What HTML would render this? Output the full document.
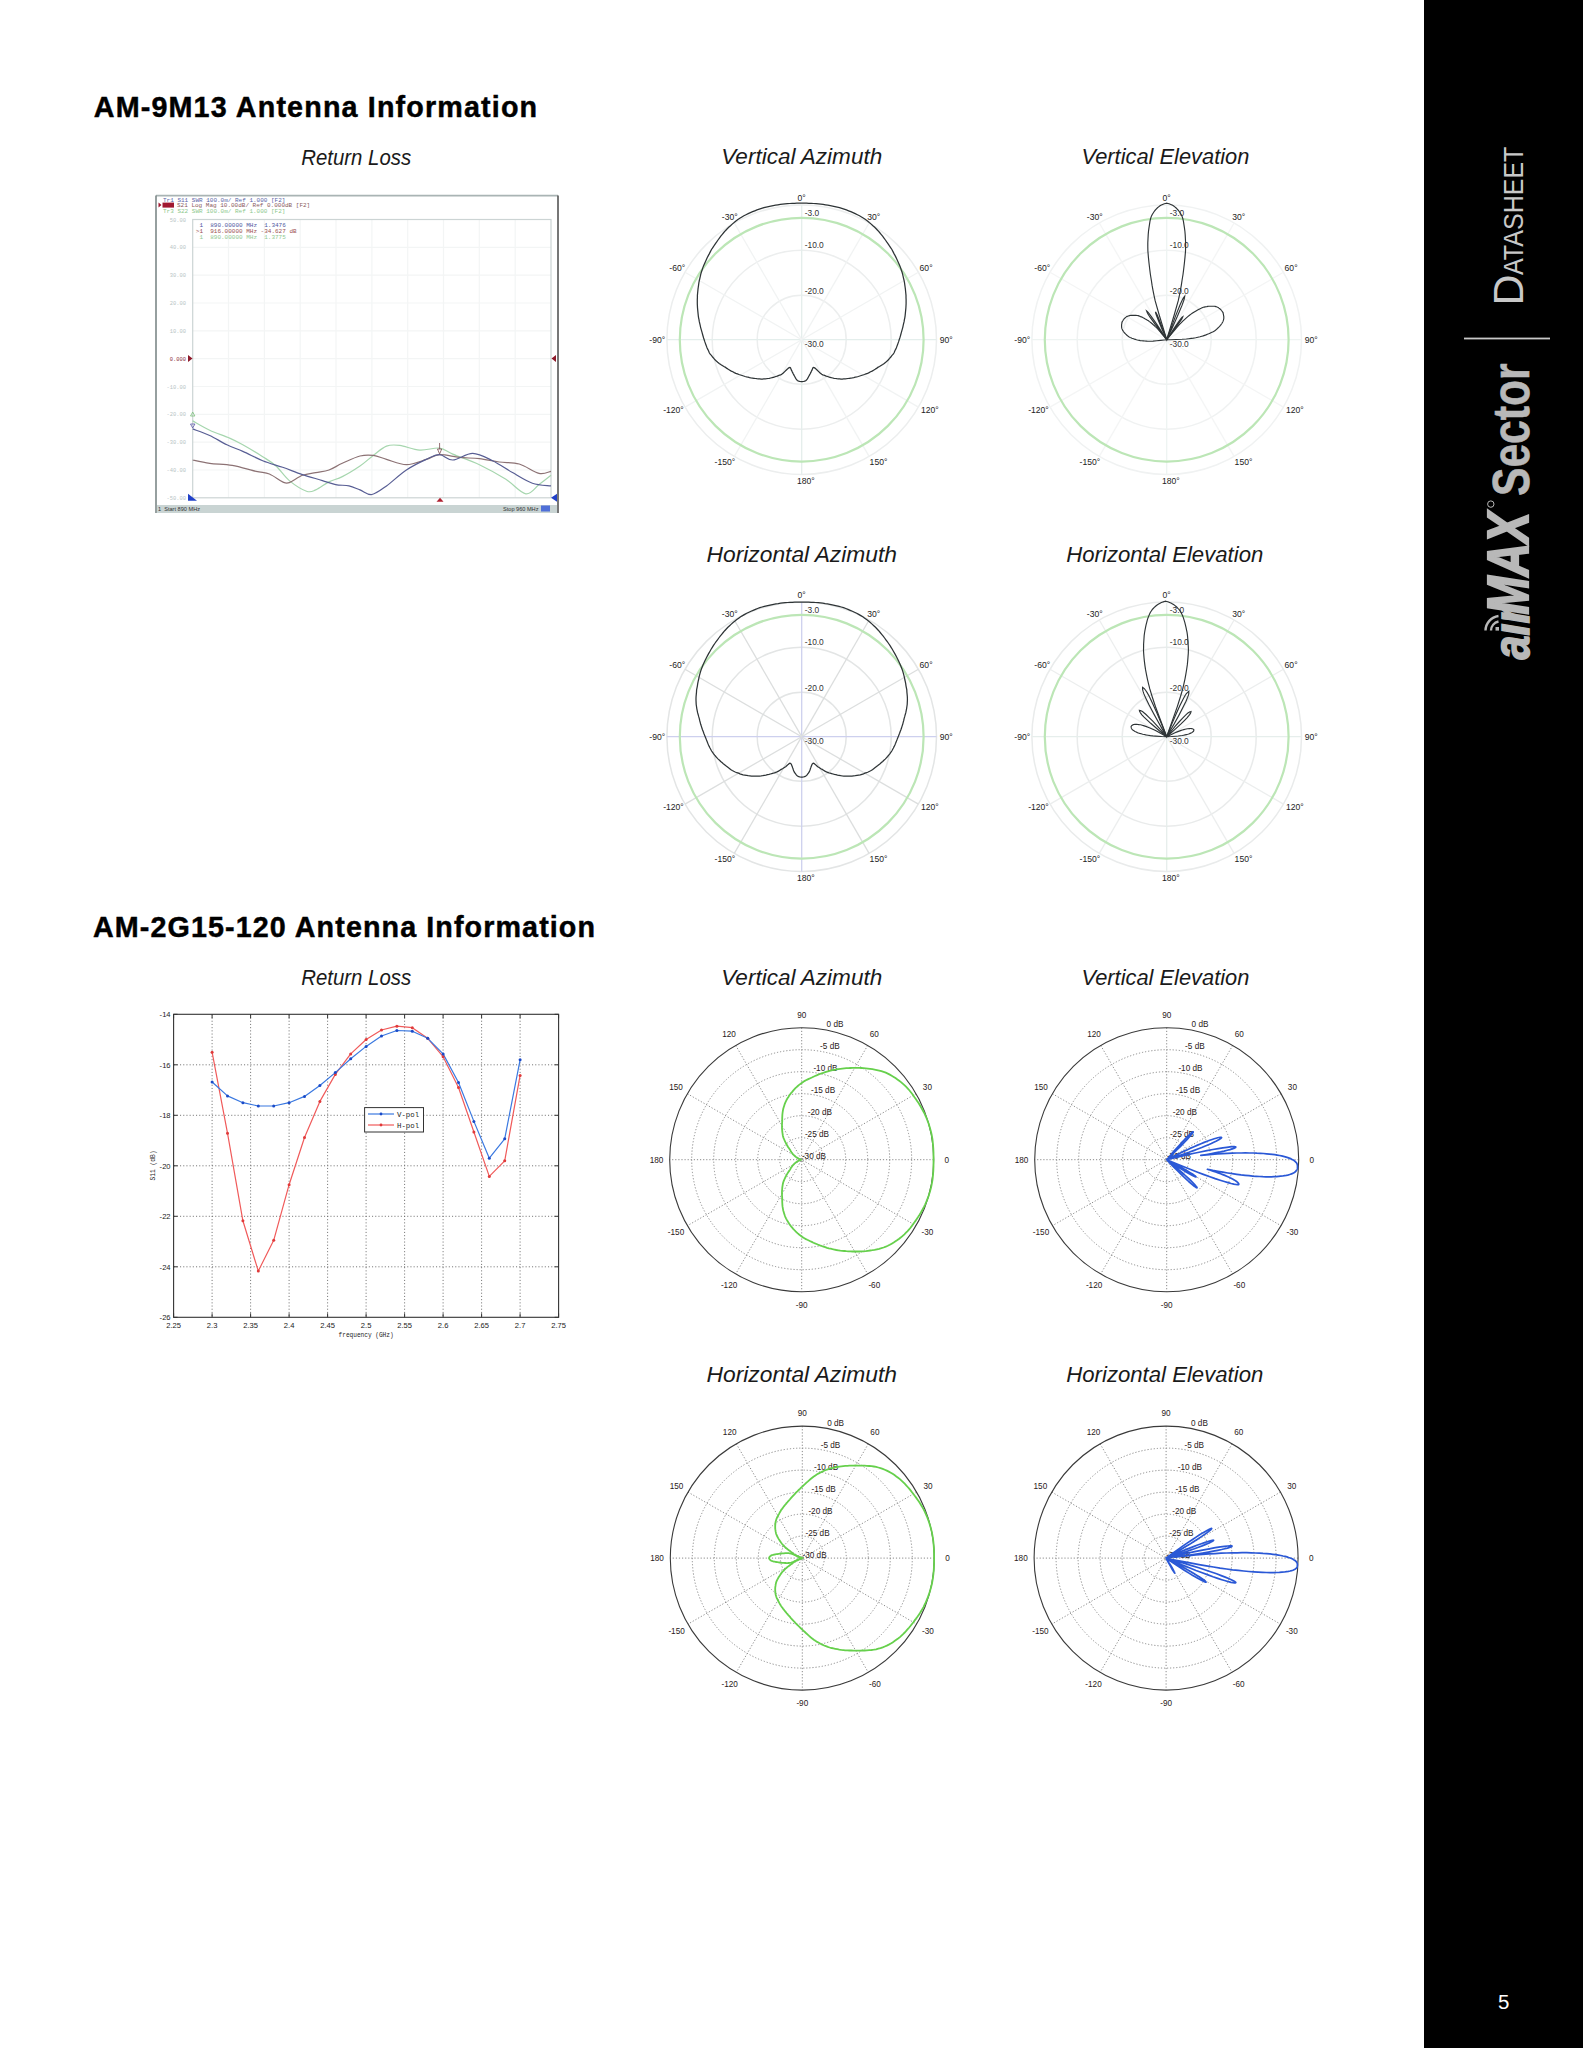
<!DOCTYPE html>
<html><head><meta charset="utf-8"><title>airMAX Sector Datasheet</title>
<style>
html,body{margin:0;padding:0;background:#fff;}
body{width:1583px;height:2048px;position:relative;overflow:hidden;font-family:"Liberation Sans",sans-serif;}
#side{position:absolute;left:1424px;top:0;width:159px;height:2048px;background:#000;}
svg{position:absolute;left:0;top:0;}
.h1{font-family:"Liberation Sans",sans-serif;font-weight:bold;font-size:28.7px;fill:#000;stroke:#000;stroke-width:0.45px;}
.t{font-family:"Liberation Sans",sans-serif;font-style:italic;font-size:22.8px;fill:#1a1a1a;}
.pa{font-family:"Liberation Sans",sans-serif;font-size:8.6px;fill:#222;}
.pdb{font-family:"Liberation Sans",sans-serif;font-size:8.4px;fill:#333;}
.pb{font-family:"Liberation Sans",sans-serif;font-size:8.2px;fill:#2a2020;}
.tk{font-family:"Liberation Sans",sans-serif;font-size:7.6px;fill:#222;}
.mono{font-family:"Liberation Mono",monospace;font-size:7.4px;fill:#222;}
.na{font-family:"Liberation Mono",monospace;font-size:6px;white-space:pre;}
</style></head><body>
<div id="side"></div>
<svg width="1583" height="2048" viewBox="0 0 1583 2048">
<text x="93.8" y="116.6" class="h1" textLength="443.3" lengthAdjust="spacing">AM-9M13 Antenna Information</text>
<text x="93.0" y="936.6" class="h1" textLength="502" lengthAdjust="spacing">AM-2G15-120 Antenna Information</text>
<text x="301.3" y="164.6" class="t" textLength="109.8" lengthAdjust="spacingAndGlyphs">Return Loss</text>
<text x="721.2" y="164.3" class="t" textLength="161" lengthAdjust="spacingAndGlyphs">Vertical Azimuth</text>
<text x="1081.4" y="164.3" class="t" textLength="168" lengthAdjust="spacingAndGlyphs">Vertical Elevation</text>
<text x="706.5" y="561.8" class="t" textLength="190.5" lengthAdjust="spacingAndGlyphs">Horizontal Azimuth</text>
<text x="1066.3" y="561.8" class="t" textLength="197" lengthAdjust="spacingAndGlyphs">Horizontal Elevation</text>
<text x="301.3" y="985.1" class="t" textLength="109.8" lengthAdjust="spacingAndGlyphs">Return Loss</text>
<text x="721.2" y="984.8" class="t" textLength="161" lengthAdjust="spacingAndGlyphs">Vertical Azimuth</text>
<text x="1081.4" y="984.8" class="t" textLength="168" lengthAdjust="spacingAndGlyphs">Vertical Elevation</text>
<text x="706.5" y="1382.3" class="t" textLength="190.5" lengthAdjust="spacingAndGlyphs">Horizontal Azimuth</text>
<text x="1066.3" y="1382.3" class="t" textLength="197" lengthAdjust="spacingAndGlyphs">Horizontal Elevation</text>
<rect x="156" y="195.6" width="402" height="317.4" fill="#fff"/>
<line x1="228.5" y1="219.5" x2="228.5" y2="497.8" stroke="#f3f5f5" stroke-width="1.2"/>
<line x1="192.7" y1="247.3" x2="551" y2="247.3" stroke="#f3f5f5" stroke-width="1.2"/>
<line x1="264.4" y1="219.5" x2="264.4" y2="497.8" stroke="#f3f5f5" stroke-width="1.2"/>
<line x1="192.7" y1="275.2" x2="551" y2="275.2" stroke="#f3f5f5" stroke-width="1.2"/>
<line x1="300.2" y1="219.5" x2="300.2" y2="497.8" stroke="#f3f5f5" stroke-width="1.2"/>
<line x1="192.7" y1="303.0" x2="551" y2="303.0" stroke="#f3f5f5" stroke-width="1.2"/>
<line x1="336.0" y1="219.5" x2="336.0" y2="497.8" stroke="#f3f5f5" stroke-width="1.2"/>
<line x1="192.7" y1="330.8" x2="551" y2="330.8" stroke="#f3f5f5" stroke-width="1.2"/>
<line x1="371.9" y1="219.5" x2="371.9" y2="497.8" stroke="#f3f5f5" stroke-width="1.2"/>
<line x1="192.7" y1="358.6" x2="551" y2="358.6" stroke="#f3f5f5" stroke-width="1.2"/>
<line x1="407.7" y1="219.5" x2="407.7" y2="497.8" stroke="#f3f5f5" stroke-width="1.2"/>
<line x1="192.7" y1="386.5" x2="551" y2="386.5" stroke="#f3f5f5" stroke-width="1.2"/>
<line x1="443.5" y1="219.5" x2="443.5" y2="497.8" stroke="#f3f5f5" stroke-width="1.2"/>
<line x1="192.7" y1="414.3" x2="551" y2="414.3" stroke="#f3f5f5" stroke-width="1.2"/>
<line x1="479.3" y1="219.5" x2="479.3" y2="497.8" stroke="#f3f5f5" stroke-width="1.2"/>
<line x1="192.7" y1="442.1" x2="551" y2="442.1" stroke="#f3f5f5" stroke-width="1.2"/>
<line x1="515.2" y1="219.5" x2="515.2" y2="497.8" stroke="#f3f5f5" stroke-width="1.2"/>
<line x1="192.7" y1="470.0" x2="551" y2="470.0" stroke="#f3f5f5" stroke-width="1.2"/>
<rect x="192.7" y="219.5" width="358.3" height="278.3" fill="none" stroke="#ccd4d4" stroke-width="1.2"/>
<line x1="156" y1="195.6" x2="558" y2="195.6" stroke="#a9b4b4" stroke-width="1.6"/>
<line x1="156" y1="195.6" x2="156" y2="513" stroke="#7c8888" stroke-width="1.6"/>
<line x1="558" y1="195.6" x2="558" y2="513" stroke="#555" stroke-width="1.6"/>
<rect x="157" y="505" width="400" height="8" fill="#c9d4d3"/>
<text x="158" y="511.3" class="na" style="font-family:'Liberation Sans';font-size:5.6px" fill="#333">1  Start 890 MHz</text>
<text x="503" y="511.3" class="na" style="font-family:'Liberation Sans';font-size:5.6px" fill="#333">Stop 960 MHz</text>
<rect x="541" y="505.5" width="9" height="6" fill="#4f6fd8"/>
<text x="163" y="201.5" class="na" fill="#5a64a8">Tr1 S11 SWR 100.0m/ Ref 1.000 [F2]</text>
<rect x="162.5" y="202.6" width="11.5" height="5" fill="#a01830"/>
<path d="M158.5,202.6 L161.5,205 L158.5,207.4Z" fill="#a01830"/>
<text x="177" y="207.3" class="na" fill="#8a5a60">S21 Log Mag 10.00dB/ Ref 0.000dB [F2]</text>
<text x="163" y="212.6" class="na" fill="#8cc88c">Tr3 S22 SWR 100.0m/ Ref 1.000 [F2]</text>
<text x="195.8" y="226.8" class="na" fill="#5058a0"> 1  890.00000 MHz  1.3476</text>
<text x="195.8" y="232.9" class="na" fill="#9a5050">&gt;1  916.00000 MHz -34.627 dB</text>
<text x="195.8" y="238.8" class="na" fill="#90c890"> 1  890.00000 MHz  1.3775</text>
<text x="186" y="221.5" class="na" fill="#b8c4c4" text-anchor="end" style="font-size:5.4px">50.00</text>
<text x="186" y="249.3" class="na" fill="#b8c4c4" text-anchor="end" style="font-size:5.4px">40.00</text>
<text x="186" y="277.2" class="na" fill="#b8c4c4" text-anchor="end" style="font-size:5.4px">30.00</text>
<text x="186" y="305.0" class="na" fill="#b8c4c4" text-anchor="end" style="font-size:5.4px">20.00</text>
<text x="186" y="332.8" class="na" fill="#b8c4c4" text-anchor="end" style="font-size:5.4px">10.00</text>
<text x="186" y="360.6" class="na" fill="#8a3040" text-anchor="end" style="font-size:5.4px">0.000</text>
<text x="186" y="388.5" class="na" fill="#b8c4c4" text-anchor="end" style="font-size:5.4px">-10.00</text>
<text x="186" y="416.3" class="na" fill="#b8c4c4" text-anchor="end" style="font-size:5.4px">-20.00</text>
<text x="186" y="444.1" class="na" fill="#b8c4c4" text-anchor="end" style="font-size:5.4px">-30.00</text>
<text x="186" y="472.0" class="na" fill="#b8c4c4" text-anchor="end" style="font-size:5.4px">-40.00</text>
<text x="186" y="499.8" class="na" fill="#b8c4c4" text-anchor="end" style="font-size:5.4px">-50.00</text>
<path d="M188,355.1 L192.5,358.6 L188,362.1Z" fill="#8e1a2a"/>
<path d="M556,355.1 L551.5,358.6 L556,362.1Z" fill="#8e1a2a"/>
<path d="M188,493.8 L197,500.8 L188,500.8Z" fill="#2040c8"/>
<path d="M557,493.8 L551,497.8 L557,501.8Z" fill="#2040c8"/>
<path d="M436.5,501.8 L440,497.8 L443.5,501.8Z" fill="#b02030"/>
<path d="M192.7,420.9 C195.5,422.4 203.5,427.3 209.7,430.2 C215.8,433.1 224.1,435.7 229.6,438.1 C235.1,440.5 237.3,441.7 242.8,444.8 C248.3,447.9 257.2,453.2 262.7,456.7 C268.2,460.2 271.6,462.0 276.0,466.0 C280.4,470.0 284.2,476.4 289.3,480.6 C294.4,484.8 302.1,489.6 306.5,491.2 C310.9,492.8 312.1,491.4 315.8,489.9 C319.6,488.3 324.6,484.1 329.0,481.9 C333.4,479.7 337.1,479.2 342.3,476.6 C347.5,474.0 354.8,469.5 360.0,466.0 C365.2,462.5 368.9,458.7 373.3,455.4 C377.7,452.1 382.1,447.8 386.5,446.1 C390.9,444.4 394.3,444.7 399.8,445.4 C405.3,446.1 413.1,449.7 419.7,450.1 C426.3,450.6 434.1,447.4 439.6,448.1 C445.1,448.8 446.2,451.3 452.8,454.1 C459.4,456.9 470.5,460.5 479.4,464.7 C488.2,468.9 498.2,474.4 505.9,479.3 C513.6,484.2 520.3,492.9 525.8,493.8 C531.3,494.7 534.8,487.7 539.0,484.6 C543.2,481.5 549.0,476.9 551.0,475.3" fill="none" stroke="#a6d6ae" stroke-width="1.2"/>
<path d="M192.7,460.0 C195.5,460.6 203.1,462.4 209.7,463.3 C216.3,464.2 224.5,464.0 232.2,465.3 C239.9,466.6 249.9,469.9 256.1,471.3 C262.3,472.8 265.0,472.2 269.4,474.0 C273.8,475.8 279.3,480.5 282.6,481.9 C285.9,483.3 286.0,483.7 289.3,482.6 C292.6,481.5 298.1,477.0 302.5,475.3 C306.9,473.6 311.4,473.5 315.8,472.6 C320.2,471.7 324.6,471.6 329.0,470.0 C333.4,468.4 337.1,465.6 342.3,463.3 C347.5,461.0 354.8,457.3 360.0,456.0 C365.2,454.7 368.9,454.8 373.3,455.4 C377.7,456.0 381.0,457.8 386.5,459.4 C392.0,460.9 399.8,464.7 406.4,464.7 C413.0,464.7 420.8,461.1 426.3,459.4 C431.8,457.7 434.1,455.0 439.6,454.7 C445.1,454.4 452.9,456.7 459.5,457.4 C466.1,458.1 472.8,457.9 479.4,458.7 C486.0,459.5 492.7,461.1 499.3,462.0 C505.9,462.9 512.6,462.1 519.2,464.0 C525.8,465.9 533.7,472.1 539.0,473.3 C544.3,474.5 549.0,471.6 551.0,471.3" fill="none" stroke="#8c7274" stroke-width="1.2"/>
<path d="M192.7,428.9 C195.5,430.0 204.0,432.9 209.7,435.5 C215.4,438.1 221.4,442.2 226.9,444.8 C232.4,447.4 236.8,448.8 242.8,451.4 C248.8,454.0 256.1,458.0 262.7,460.7 C269.3,463.4 276.0,465.0 282.6,467.3 C289.2,469.6 295.9,472.4 302.5,474.6 C309.1,476.8 316.9,478.9 322.4,480.6 C327.9,482.3 331.3,483.7 335.7,484.6 C340.1,485.5 344.9,485.0 349.0,485.9 C353.1,486.8 356.2,488.5 360.0,489.9 C363.8,491.3 367.5,495.2 371.9,494.5 C376.3,493.8 380.8,490.0 386.5,485.9 C392.2,481.8 399.8,474.4 406.4,470.0 C413.0,465.6 420.8,461.9 426.3,459.4 C431.8,456.8 435.2,454.6 439.6,454.7 C444.0,454.8 447.3,460.2 452.8,460.0 C458.3,459.8 466.1,453.3 472.7,453.4 C479.3,453.5 486.0,457.5 492.6,460.7 C499.2,463.9 505.9,468.9 512.5,472.6 C519.1,476.4 526.0,481.0 532.4,483.2 C538.8,485.4 547.9,485.4 551.0,485.9" fill="none" stroke="#585e94" stroke-width="1.2"/>
<path d="M190.5,416 L192.7,412 L194.9,416Z" fill="none" stroke="#7cc07c" stroke-width="0.8"/>
<path d="M190.5,424 L192.7,428 L194.9,424Z" fill="none" stroke="#5a58a8" stroke-width="0.8"/>
<path d="M437.5,449 L439.6,454 L441.7,449Z" fill="none" stroke="#7a4a4e" stroke-width="0.8"/>
<line x1="439.6" y1="443" x2="439.6" y2="449" stroke="#7a4a4e" stroke-width="0.8"/>
<line x1="212.1" y1="1014.3" x2="212.1" y2="1317.3" stroke="#6a6a6a" stroke-width="0.9" stroke-dasharray="1.1 2.1"/>
<line x1="250.6" y1="1014.3" x2="250.6" y2="1317.3" stroke="#6a6a6a" stroke-width="0.9" stroke-dasharray="1.1 2.1"/>
<line x1="289.1" y1="1014.3" x2="289.1" y2="1317.3" stroke="#6a6a6a" stroke-width="0.9" stroke-dasharray="1.1 2.1"/>
<line x1="327.6" y1="1014.3" x2="327.6" y2="1317.3" stroke="#6a6a6a" stroke-width="0.9" stroke-dasharray="1.1 2.1"/>
<line x1="366.1" y1="1014.3" x2="366.1" y2="1317.3" stroke="#6a6a6a" stroke-width="0.9" stroke-dasharray="1.1 2.1"/>
<line x1="404.6" y1="1014.3" x2="404.6" y2="1317.3" stroke="#6a6a6a" stroke-width="0.9" stroke-dasharray="1.1 2.1"/>
<line x1="443.1" y1="1014.3" x2="443.1" y2="1317.3" stroke="#6a6a6a" stroke-width="0.9" stroke-dasharray="1.1 2.1"/>
<line x1="481.6" y1="1014.3" x2="481.6" y2="1317.3" stroke="#6a6a6a" stroke-width="0.9" stroke-dasharray="1.1 2.1"/>
<line x1="520.1" y1="1014.3" x2="520.1" y2="1317.3" stroke="#6a6a6a" stroke-width="0.9" stroke-dasharray="1.1 2.1"/>
<line x1="173.6" y1="1064.8" x2="558.6" y2="1064.8" stroke="#6a6a6a" stroke-width="0.9" stroke-dasharray="1.1 2.1"/>
<line x1="173.6" y1="1115.3" x2="558.6" y2="1115.3" stroke="#6a6a6a" stroke-width="0.9" stroke-dasharray="1.1 2.1"/>
<line x1="173.6" y1="1165.8" x2="558.6" y2="1165.8" stroke="#6a6a6a" stroke-width="0.9" stroke-dasharray="1.1 2.1"/>
<line x1="173.6" y1="1216.3" x2="558.6" y2="1216.3" stroke="#6a6a6a" stroke-width="0.9" stroke-dasharray="1.1 2.1"/>
<line x1="173.6" y1="1266.8" x2="558.6" y2="1266.8" stroke="#6a6a6a" stroke-width="0.9" stroke-dasharray="1.1 2.1"/>
<line x1="173.6" y1="1317.3" x2="173.6" y2="1313.3" stroke="#333" stroke-width="1"/>
<line x1="173.6" y1="1014.3" x2="173.6" y2="1018.3" stroke="#333" stroke-width="1"/>
<text x="173.6" y="1327.5" class="tk" text-anchor="middle">2.25</text>
<line x1="212.1" y1="1317.3" x2="212.1" y2="1313.3" stroke="#333" stroke-width="1"/>
<line x1="212.1" y1="1014.3" x2="212.1" y2="1018.3" stroke="#333" stroke-width="1"/>
<text x="212.1" y="1327.5" class="tk" text-anchor="middle">2.3</text>
<line x1="250.6" y1="1317.3" x2="250.6" y2="1313.3" stroke="#333" stroke-width="1"/>
<line x1="250.6" y1="1014.3" x2="250.6" y2="1018.3" stroke="#333" stroke-width="1"/>
<text x="250.6" y="1327.5" class="tk" text-anchor="middle">2.35</text>
<line x1="289.1" y1="1317.3" x2="289.1" y2="1313.3" stroke="#333" stroke-width="1"/>
<line x1="289.1" y1="1014.3" x2="289.1" y2="1018.3" stroke="#333" stroke-width="1"/>
<text x="289.1" y="1327.5" class="tk" text-anchor="middle">2.4</text>
<line x1="327.6" y1="1317.3" x2="327.6" y2="1313.3" stroke="#333" stroke-width="1"/>
<line x1="327.6" y1="1014.3" x2="327.6" y2="1018.3" stroke="#333" stroke-width="1"/>
<text x="327.6" y="1327.5" class="tk" text-anchor="middle">2.45</text>
<line x1="366.1" y1="1317.3" x2="366.1" y2="1313.3" stroke="#333" stroke-width="1"/>
<line x1="366.1" y1="1014.3" x2="366.1" y2="1018.3" stroke="#333" stroke-width="1"/>
<text x="366.1" y="1327.5" class="tk" text-anchor="middle">2.5</text>
<line x1="404.6" y1="1317.3" x2="404.6" y2="1313.3" stroke="#333" stroke-width="1"/>
<line x1="404.6" y1="1014.3" x2="404.6" y2="1018.3" stroke="#333" stroke-width="1"/>
<text x="404.6" y="1327.5" class="tk" text-anchor="middle">2.55</text>
<line x1="443.1" y1="1317.3" x2="443.1" y2="1313.3" stroke="#333" stroke-width="1"/>
<line x1="443.1" y1="1014.3" x2="443.1" y2="1018.3" stroke="#333" stroke-width="1"/>
<text x="443.1" y="1327.5" class="tk" text-anchor="middle">2.6</text>
<line x1="481.6" y1="1317.3" x2="481.6" y2="1313.3" stroke="#333" stroke-width="1"/>
<line x1="481.6" y1="1014.3" x2="481.6" y2="1018.3" stroke="#333" stroke-width="1"/>
<text x="481.6" y="1327.5" class="tk" text-anchor="middle">2.65</text>
<line x1="520.1" y1="1317.3" x2="520.1" y2="1313.3" stroke="#333" stroke-width="1"/>
<line x1="520.1" y1="1014.3" x2="520.1" y2="1018.3" stroke="#333" stroke-width="1"/>
<text x="520.1" y="1327.5" class="tk" text-anchor="middle">2.7</text>
<line x1="558.6" y1="1317.3" x2="558.6" y2="1313.3" stroke="#333" stroke-width="1"/>
<line x1="558.6" y1="1014.3" x2="558.6" y2="1018.3" stroke="#333" stroke-width="1"/>
<text x="558.6" y="1327.5" class="tk" text-anchor="middle">2.75</text>
<line x1="173.6" y1="1014.3" x2="177.6" y2="1014.3" stroke="#333" stroke-width="1"/>
<line x1="558.6" y1="1014.3" x2="554.6" y2="1014.3" stroke="#333" stroke-width="1"/>
<text x="170.6" y="1017.1" class="tk" text-anchor="end">-14</text>
<line x1="173.6" y1="1064.8" x2="177.6" y2="1064.8" stroke="#333" stroke-width="1"/>
<line x1="558.6" y1="1064.8" x2="554.6" y2="1064.8" stroke="#333" stroke-width="1"/>
<text x="170.6" y="1067.6" class="tk" text-anchor="end">-16</text>
<line x1="173.6" y1="1115.3" x2="177.6" y2="1115.3" stroke="#333" stroke-width="1"/>
<line x1="558.6" y1="1115.3" x2="554.6" y2="1115.3" stroke="#333" stroke-width="1"/>
<text x="170.6" y="1118.1" class="tk" text-anchor="end">-18</text>
<line x1="173.6" y1="1165.8" x2="177.6" y2="1165.8" stroke="#333" stroke-width="1"/>
<line x1="558.6" y1="1165.8" x2="554.6" y2="1165.8" stroke="#333" stroke-width="1"/>
<text x="170.6" y="1168.6" class="tk" text-anchor="end">-20</text>
<line x1="173.6" y1="1216.3" x2="177.6" y2="1216.3" stroke="#333" stroke-width="1"/>
<line x1="558.6" y1="1216.3" x2="554.6" y2="1216.3" stroke="#333" stroke-width="1"/>
<text x="170.6" y="1219.1" class="tk" text-anchor="end">-22</text>
<line x1="173.6" y1="1266.8" x2="177.6" y2="1266.8" stroke="#333" stroke-width="1"/>
<line x1="558.6" y1="1266.8" x2="554.6" y2="1266.8" stroke="#333" stroke-width="1"/>
<text x="170.6" y="1269.6" class="tk" text-anchor="end">-24</text>
<line x1="173.6" y1="1317.3" x2="177.6" y2="1317.3" stroke="#333" stroke-width="1"/>
<line x1="558.6" y1="1317.3" x2="554.6" y2="1317.3" stroke="#333" stroke-width="1"/>
<text x="170.6" y="1320.1" class="tk" text-anchor="end">-26</text>
<rect x="173.6" y="1014.3" width="385.0" height="303.0" fill="none" stroke="#333" stroke-width="1.1"/>
<text x="366.1" y="1337" class="mono" text-anchor="middle" textLength="55" lengthAdjust="spacingAndGlyphs">frequency (GHz)</text>
<text x="0" y="0" class="mono" text-anchor="middle" textLength="30" lengthAdjust="spacingAndGlyphs" transform="translate(154.5,1165.5) rotate(-90)">S11 (dB)</text>
<polyline points="212.1,1052.2 227.5,1133.2 242.9,1220.8 258.3,1271.1 273.7,1240.3 289.1,1184.7 304.5,1137.5 319.9,1101.4 335.3,1074.4 350.7,1053.9 366.1,1039.5 381.5,1030.0 396.9,1026.2 412.3,1027.7 427.7,1038.3 443.1,1056.7 458.5,1087.5 473.9,1132.0 489.3,1176.4 504.7,1160.8 520.1,1075.4" fill="none" stroke="#f05a5a" stroke-width="1.2" stroke-linejoin="round"/>
<polyline points="212.1,1082.0 227.5,1095.9 242.9,1102.7 258.3,1106.0 273.7,1106.0 289.1,1102.7 304.5,1096.4 319.9,1085.5 335.3,1072.6 350.7,1058.7 366.1,1046.4 381.5,1036.0 396.9,1030.5 412.3,1031.2 427.7,1038.3 443.1,1053.9 458.5,1082.5 473.9,1121.4 489.3,1158.2 504.7,1138.8 520.1,1059.8" fill="none" stroke="#3a78e0" stroke-width="1.2" stroke-linejoin="round"/>
<circle cx="212.1" cy="1052.2" r="1.5" fill="#e03a3a"/>
<circle cx="227.5" cy="1133.2" r="1.5" fill="#e03a3a"/>
<circle cx="242.9" cy="1220.8" r="1.5" fill="#e03a3a"/>
<circle cx="258.3" cy="1271.1" r="1.5" fill="#e03a3a"/>
<circle cx="273.7" cy="1240.3" r="1.5" fill="#e03a3a"/>
<circle cx="289.1" cy="1184.7" r="1.5" fill="#e03a3a"/>
<circle cx="304.5" cy="1137.5" r="1.5" fill="#e03a3a"/>
<circle cx="319.9" cy="1101.4" r="1.5" fill="#e03a3a"/>
<circle cx="335.3" cy="1074.4" r="1.5" fill="#e03a3a"/>
<circle cx="350.7" cy="1053.9" r="1.5" fill="#e03a3a"/>
<circle cx="366.1" cy="1039.5" r="1.5" fill="#e03a3a"/>
<circle cx="381.5" cy="1030.0" r="1.5" fill="#e03a3a"/>
<circle cx="396.9" cy="1026.2" r="1.5" fill="#e03a3a"/>
<circle cx="412.3" cy="1027.7" r="1.5" fill="#e03a3a"/>
<circle cx="427.7" cy="1038.3" r="1.5" fill="#e03a3a"/>
<circle cx="443.1" cy="1056.7" r="1.5" fill="#e03a3a"/>
<circle cx="458.5" cy="1087.5" r="1.5" fill="#e03a3a"/>
<circle cx="473.9" cy="1132.0" r="1.5" fill="#e03a3a"/>
<circle cx="489.3" cy="1176.4" r="1.5" fill="#e03a3a"/>
<circle cx="504.7" cy="1160.8" r="1.5" fill="#e03a3a"/>
<circle cx="520.1" cy="1075.4" r="1.5" fill="#e03a3a"/>
<circle cx="212.1" cy="1082.0" r="1.5" fill="#1a4ac8"/>
<circle cx="227.5" cy="1095.9" r="1.5" fill="#1a4ac8"/>
<circle cx="242.9" cy="1102.7" r="1.5" fill="#1a4ac8"/>
<circle cx="258.3" cy="1106.0" r="1.5" fill="#1a4ac8"/>
<circle cx="273.7" cy="1106.0" r="1.5" fill="#1a4ac8"/>
<circle cx="289.1" cy="1102.7" r="1.5" fill="#1a4ac8"/>
<circle cx="304.5" cy="1096.4" r="1.5" fill="#1a4ac8"/>
<circle cx="319.9" cy="1085.5" r="1.5" fill="#1a4ac8"/>
<circle cx="335.3" cy="1072.6" r="1.5" fill="#1a4ac8"/>
<circle cx="350.7" cy="1058.7" r="1.5" fill="#1a4ac8"/>
<circle cx="366.1" cy="1046.4" r="1.5" fill="#1a4ac8"/>
<circle cx="381.5" cy="1036.0" r="1.5" fill="#1a4ac8"/>
<circle cx="396.9" cy="1030.5" r="1.5" fill="#1a4ac8"/>
<circle cx="412.3" cy="1031.2" r="1.5" fill="#1a4ac8"/>
<circle cx="427.7" cy="1038.3" r="1.5" fill="#1a4ac8"/>
<circle cx="443.1" cy="1053.9" r="1.5" fill="#1a4ac8"/>
<circle cx="458.5" cy="1082.5" r="1.5" fill="#1a4ac8"/>
<circle cx="473.9" cy="1121.4" r="1.5" fill="#1a4ac8"/>
<circle cx="489.3" cy="1158.2" r="1.5" fill="#1a4ac8"/>
<circle cx="504.7" cy="1138.8" r="1.5" fill="#1a4ac8"/>
<circle cx="520.1" cy="1059.8" r="1.5" fill="#1a4ac8"/>
<rect x="364.6" y="1107.6" width="58.9" height="24.4" fill="#fff" stroke="#333" stroke-width="1"/>
<line x1="368" y1="1114" x2="394" y2="1114" stroke="#3a78e0" stroke-width="1.2"/>
<circle cx="381" cy="1114" r="1.4" fill="#1a4ac8"/>
<line x1="368" y1="1125" x2="394" y2="1125" stroke="#f05a5a" stroke-width="1.2"/>
<circle cx="381" cy="1125" r="1.4" fill="#e03a3a"/>
<text x="397" y="1116.8" class="mono">V-pol</text>
<text x="397" y="1127.8" class="mono">H-pol</text>
<circle cx="801.7" cy="339.7" r="44.5" fill="none" stroke="#eceeee" stroke-width="1.5"/>
<circle cx="801.7" cy="339.7" r="89.5" fill="none" stroke="#eceeee" stroke-width="1.5"/>
<circle cx="801.7" cy="339.7" r="134.8" fill="none" stroke="#eceeee" stroke-width="1.5"/>
<line x1="801.7" y1="339.7" x2="801.7" y2="204.9" stroke="#e4eeec" stroke-width="1.3"/>
<line x1="801.7" y1="339.7" x2="869.1" y2="223.0" stroke="#f1f3f3" stroke-width="1.3"/>
<line x1="801.7" y1="339.7" x2="918.4" y2="272.3" stroke="#f1f3f3" stroke-width="1.3"/>
<line x1="801.7" y1="339.7" x2="936.5" y2="339.7" stroke="#e4eeec" stroke-width="1.3"/>
<line x1="801.7" y1="339.7" x2="918.4" y2="407.1" stroke="#f1f3f3" stroke-width="1.3"/>
<line x1="801.7" y1="339.7" x2="869.1" y2="456.4" stroke="#f1f3f3" stroke-width="1.3"/>
<line x1="801.7" y1="339.7" x2="801.7" y2="474.5" stroke="#e4eeec" stroke-width="1.3"/>
<line x1="801.7" y1="339.7" x2="734.3" y2="456.4" stroke="#f1f3f3" stroke-width="1.3"/>
<line x1="801.7" y1="339.7" x2="685.0" y2="407.1" stroke="#f1f3f3" stroke-width="1.3"/>
<line x1="801.7" y1="339.7" x2="666.9" y2="339.7" stroke="#e4eeec" stroke-width="1.3"/>
<line x1="801.7" y1="339.7" x2="685.0" y2="272.3" stroke="#f1f3f3" stroke-width="1.3"/>
<line x1="801.7" y1="339.7" x2="734.3" y2="223.0" stroke="#f1f3f3" stroke-width="1.3"/>
<circle cx="801.7" cy="339.7" r="121.9" fill="none" stroke="#bce6b6" stroke-width="2.2"/>
<text x="801.7" y="200.9" class="pa" text-anchor="middle">0°</text>
<text x="873.7" y="220.2" class="pa" text-anchor="middle">30°</text>
<text x="926.1" y="271.1" class="pa" text-anchor="middle">60°</text>
<text x="946.2" y="342.9" class="pa" text-anchor="middle">90°</text>
<text x="929.9" y="413.4" class="pa" text-anchor="middle">120°</text>
<text x="878.5" y="464.9" class="pa" text-anchor="middle">150°</text>
<text x="805.9" y="484.0" class="pa" text-anchor="middle">180°</text>
<text x="724.9" y="464.9" class="pa" text-anchor="middle">-150°</text>
<text x="673.5" y="413.4" class="pa" text-anchor="middle">-120°</text>
<text x="657.2" y="342.9" class="pa" text-anchor="middle">-90°</text>
<text x="677.3" y="271.1" class="pa" text-anchor="middle">-60°</text>
<text x="729.7" y="220.2" class="pa" text-anchor="middle">-30°</text>
<text x="804.7" y="216.4" class="pdb">-3.0</text>
<text x="804.7" y="248.1" class="pdb">-10.0</text>
<text x="804.7" y="293.6" class="pdb">-20.0</text>
<text x="804.7" y="346.8" class="pdb">-30.0</text>
<path d="M801.7,381.7 L801.0,381.6 L800.2,381.5 L799.5,381.4 L798.8,381.2 L798.1,380.9 L797.4,380.5 L796.8,379.8 L796.2,379.1 L795.6,378.2 L795.1,377.2 L794.6,376.3 L794.1,375.4 L793.7,374.6 L793.2,373.7 L792.8,372.9 L792.4,372.1 L792.0,371.3 L791.7,370.6 L791.3,369.9 L791.0,369.1 L790.7,368.3 L790.4,367.7 L789.9,367.4 L789.3,367.6 L788.4,368.1 L787.4,369.1 L786.1,370.2 L784.7,371.6 L783.3,373.0 L781.7,374.3 L780.6,374.8 L779.5,375.2 L778.4,375.6 L777.2,376.1 L775.9,376.5 L774.7,376.9 L773.4,377.3 L772.0,377.7 L770.7,378.0 L769.3,378.3 L768.0,378.5 L766.6,378.7 L765.2,378.8 L763.8,378.9 L762.4,379.0 L761.1,379.0 L759.7,378.9 L758.2,378.8 L756.8,378.7 L755.4,378.5 L754.0,378.3 L752.5,378.1 L751.1,377.9 L749.6,377.6 L748.1,377.2 L746.6,376.9 L745.1,376.5 L743.6,376.0 L742.1,375.5 L740.5,375.0 L739.0,374.5 L737.4,373.9 L735.8,373.3 L734.3,372.6 L732.8,371.8 L731.3,371.1 L729.8,370.2 L728.3,369.3 L726.9,368.4 L725.6,367.4 L723.9,366.5 L722.3,365.5 L720.7,364.5 L719.2,363.4 L717.7,362.2 L716.3,361.0 L715.0,359.7 L713.8,358.4 L712.6,357.0 L711.6,355.6 L710.2,354.2 L709.3,352.7 L708.6,351.1 L707.9,349.6 L707.1,348.0 L706.5,346.4 L705.9,344.7 L705.3,343.1 L704.7,341.4 L704.2,339.7 L703.6,338.0 L703.1,336.3 L702.6,334.5 L702.1,332.7 L701.6,330.9 L701.1,329.1 L700.6,327.3 L700.2,325.4 L699.8,323.6 L699.3,321.7 L699.0,319.7 L698.6,317.8 L698.3,315.8 L698.1,313.9 L697.9,311.9 L697.7,309.9 L697.5,307.8 L697.4,305.8 L697.3,303.8 L697.3,301.7 L697.3,299.6 L697.4,297.5 L697.4,295.4 L697.6,293.3 L697.8,291.2 L698.0,289.1 L698.3,287.0 L698.6,284.9 L698.9,282.7 L699.3,280.6 L699.8,278.5 L700.3,276.3 L700.8,274.2 L701.4,272.0 L702.1,270.0 L702.8,267.9 L703.6,265.8 L704.5,263.8 L705.4,261.7 L706.3,259.7 L707.3,257.6 L708.3,255.6 L709.4,253.6 L710.4,251.6 L711.5,249.5 L712.8,247.6 L714.1,245.7 L715.3,243.8 L716.7,241.9 L718.0,240.0 L719.4,238.1 L720.8,236.2 L722.3,234.3 L723.8,232.5 L725.4,230.7 L727.0,229.0 L728.7,227.3 L730.5,225.7 L732.2,224.1 L734.1,222.6 L735.9,221.1 L737.9,219.6 L739.8,218.3 L741.9,217.0 L743.9,215.8 L746.0,214.7 L748.2,213.6 L750.4,212.6 L752.6,211.7 L754.8,210.8 L757.0,209.9 L759.3,209.1 L761.6,208.4 L763.9,207.7 L766.2,207.1 L768.5,206.6 L770.8,206.1 L773.2,205.6 L775.6,205.2 L777.9,204.8 L780.3,204.4 L782.6,204.1 L785.0,203.9 L787.4,203.7 L789.8,203.5 L792.2,203.4 L794.5,203.3 L796.9,203.2 L799.3,203.2 L801.7,203.2 L804.1,203.2 L806.5,203.2 L808.9,203.3 L811.2,203.4 L813.6,203.5 L816.0,203.7 L818.4,203.9 L820.8,204.1 L823.1,204.4 L825.5,204.8 L827.8,205.2 L830.2,205.6 L832.6,206.1 L834.9,206.6 L837.2,207.1 L839.5,207.7 L841.8,208.4 L844.1,209.1 L846.4,209.9 L848.6,210.8 L850.8,211.7 L853.0,212.6 L855.2,213.6 L857.4,214.7 L859.5,215.8 L861.5,217.0 L863.6,218.3 L865.5,219.6 L867.5,221.1 L869.3,222.6 L871.2,224.1 L872.9,225.7 L874.7,227.3 L876.4,229.0 L878.0,230.7 L879.6,232.5 L881.1,234.3 L882.6,236.2 L884.0,238.1 L885.4,240.0 L886.7,241.9 L888.1,243.8 L889.3,245.7 L890.6,247.6 L891.9,249.5 L893.0,251.6 L894.0,253.6 L895.1,255.6 L896.1,257.6 L897.1,259.7 L898.0,261.7 L898.9,263.8 L899.8,265.8 L900.6,267.9 L901.3,270.0 L902.0,272.0 L902.6,274.2 L903.1,276.3 L903.6,278.5 L904.1,280.6 L904.5,282.7 L904.8,284.9 L905.1,287.0 L905.4,289.1 L905.6,291.2 L905.8,293.3 L906.0,295.4 L906.0,297.5 L906.1,299.6 L906.1,301.7 L906.1,303.8 L906.0,305.8 L905.9,307.8 L905.7,309.9 L905.5,311.9 L905.3,313.9 L905.1,315.8 L904.8,317.8 L904.4,319.7 L904.1,321.7 L903.6,323.6 L903.2,325.4 L902.8,327.3 L902.3,329.1 L901.8,330.9 L901.3,332.7 L900.8,334.5 L900.3,336.3 L899.8,338.0 L899.2,339.7 L898.7,341.4 L898.1,343.1 L897.5,344.7 L896.9,346.4 L896.3,348.0 L895.5,349.6 L894.8,351.1 L894.1,352.7 L893.2,354.2 L891.8,355.6 L890.8,357.0 L889.6,358.4 L888.4,359.7 L887.1,361.0 L885.7,362.2 L884.2,363.4 L882.7,364.5 L881.1,365.5 L879.5,366.5 L877.8,367.4 L876.5,368.4 L875.1,369.3 L873.6,370.2 L872.1,371.1 L870.6,371.8 L869.1,372.6 L867.6,373.3 L866.0,373.9 L864.4,374.5 L862.9,375.0 L861.3,375.5 L859.8,376.0 L858.3,376.5 L856.8,376.9 L855.3,377.2 L853.8,377.6 L852.3,377.9 L850.9,378.1 L849.4,378.3 L848.0,378.5 L846.6,378.7 L845.2,378.8 L843.7,378.9 L842.3,379.0 L841.0,379.0 L839.6,378.9 L838.2,378.8 L836.8,378.7 L835.4,378.5 L834.1,378.3 L832.7,378.0 L831.4,377.7 L830.0,377.3 L828.7,376.9 L827.5,376.5 L826.2,376.1 L825.0,375.6 L823.9,375.2 L822.8,374.8 L821.7,374.3 L820.1,373.0 L818.7,371.6 L817.3,370.2 L816.0,369.1 L815.0,368.1 L814.1,367.6 L813.5,367.4 L813.0,367.7 L812.7,368.3 L812.4,369.1 L812.1,369.9 L811.7,370.6 L811.4,371.3 L811.0,372.1 L810.6,372.9 L810.2,373.7 L809.7,374.6 L809.3,375.4 L808.8,376.3 L808.3,377.2 L807.8,378.2 L807.2,379.1 L806.6,379.8 L806.0,380.5 L805.3,380.9 L804.6,381.2 L803.9,381.4 L803.2,381.5 L802.4,381.6 L801.7,381.7 Z" fill="none" stroke="#2e3436" stroke-width="1.25"/>
<circle cx="801.7" cy="736.7" r="44.5" fill="none" stroke="#e3e5e5" stroke-width="1.5"/>
<circle cx="801.7" cy="736.7" r="89.5" fill="none" stroke="#e3e5e5" stroke-width="1.5"/>
<circle cx="801.7" cy="736.7" r="134.8" fill="none" stroke="#e3e5e5" stroke-width="1.5"/>
<line x1="801.7" y1="736.7" x2="801.7" y2="601.9" stroke="#cdd0ee" stroke-width="1.3"/>
<line x1="801.7" y1="736.7" x2="869.1" y2="620.0" stroke="#dcdede" stroke-width="1.3"/>
<line x1="801.7" y1="736.7" x2="918.4" y2="669.3" stroke="#dcdede" stroke-width="1.3"/>
<line x1="801.7" y1="736.7" x2="936.5" y2="736.7" stroke="#cdd0ee" stroke-width="1.3"/>
<line x1="801.7" y1="736.7" x2="918.4" y2="804.1" stroke="#dcdede" stroke-width="1.3"/>
<line x1="801.7" y1="736.7" x2="869.1" y2="853.4" stroke="#dcdede" stroke-width="1.3"/>
<line x1="801.7" y1="736.7" x2="801.7" y2="871.5" stroke="#cdd0ee" stroke-width="1.3"/>
<line x1="801.7" y1="736.7" x2="734.3" y2="853.4" stroke="#dcdede" stroke-width="1.3"/>
<line x1="801.7" y1="736.7" x2="685.0" y2="804.1" stroke="#dcdede" stroke-width="1.3"/>
<line x1="801.7" y1="736.7" x2="666.9" y2="736.7" stroke="#cdd0ee" stroke-width="1.3"/>
<line x1="801.7" y1="736.7" x2="685.0" y2="669.3" stroke="#dcdede" stroke-width="1.3"/>
<line x1="801.7" y1="736.7" x2="734.3" y2="620.0" stroke="#dcdede" stroke-width="1.3"/>
<circle cx="801.7" cy="736.7" r="121.9" fill="none" stroke="#bce6b6" stroke-width="2.2"/>
<text x="801.7" y="597.9" class="pa" text-anchor="middle">0°</text>
<text x="873.7" y="617.2" class="pa" text-anchor="middle">30°</text>
<text x="926.1" y="668.1" class="pa" text-anchor="middle">60°</text>
<text x="946.2" y="739.9" class="pa" text-anchor="middle">90°</text>
<text x="929.9" y="810.4" class="pa" text-anchor="middle">120°</text>
<text x="878.5" y="861.9" class="pa" text-anchor="middle">150°</text>
<text x="805.9" y="881.0" class="pa" text-anchor="middle">180°</text>
<text x="724.9" y="861.9" class="pa" text-anchor="middle">-150°</text>
<text x="673.5" y="810.4" class="pa" text-anchor="middle">-120°</text>
<text x="657.2" y="739.9" class="pa" text-anchor="middle">-90°</text>
<text x="677.3" y="668.1" class="pa" text-anchor="middle">-60°</text>
<text x="729.7" y="617.2" class="pa" text-anchor="middle">-30°</text>
<text x="804.7" y="613.4" class="pdb">-3.0</text>
<text x="804.7" y="645.1" class="pdb">-10.0</text>
<text x="804.7" y="690.6" class="pdb">-20.0</text>
<text x="804.7" y="743.8" class="pdb">-30.0</text>
<path d="M801.7,777.2 L801.0,777.1 L800.3,777.0 L799.6,776.9 L798.9,776.7 L798.2,776.4 L797.6,776.0 L796.9,775.5 L796.3,774.9 L795.8,774.2 L795.2,773.5 L794.7,772.7 L794.2,771.9 L793.8,771.0 L793.4,770.0 L793.1,769.0 L792.7,767.9 L792.4,767.0 L792.1,766.2 L791.8,765.5 L791.5,764.8 L791.2,764.1 L790.8,763.6 L790.4,763.3 L789.9,763.2 L789.2,763.6 L788.2,764.4 L787.0,765.5 L785.7,766.7 L784.7,767.3 L783.6,768.0 L782.5,768.7 L781.2,769.4 L779.9,770.2 L778.5,771.1 L777.0,771.9 L775.8,772.3 L774.5,772.8 L773.2,773.2 L771.8,773.6 L770.4,774.0 L769.0,774.4 L767.5,774.7 L765.9,775.1 L764.3,775.4 L762.7,775.7 L761.1,775.9 L759.6,776.0 L758.0,776.0 L756.4,776.0 L754.8,776.0 L753.1,776.0 L751.5,776.0 L749.8,775.8 L748.1,775.7 L746.4,775.4 L744.7,775.1 L743.1,774.8 L741.5,774.3 L739.9,773.8 L738.5,773.2 L736.8,772.7 L735.2,772.0 L733.7,771.3 L732.3,770.5 L731.0,769.7 L729.7,768.7 L728.5,767.8 L727.2,766.8 L725.9,765.8 L724.6,764.7 L723.3,763.7 L722.0,762.6 L720.7,761.5 L719.5,760.3 L718.2,759.1 L717.0,757.8 L715.8,756.5 L714.7,755.2 L713.6,753.8 L712.6,752.4 L711.6,751.0 L710.8,749.5 L710.0,748.0 L709.2,746.4 L708.5,744.9 L707.8,743.3 L707.2,741.7 L706.5,740.0 L705.9,738.4 L705.2,736.7 L704.5,735.0 L703.8,733.3 L703.2,731.5 L702.5,729.8 L701.9,728.0 L701.3,726.1 L700.7,724.3 L700.2,722.4 L699.7,720.5 L699.3,718.6 L698.7,716.7 L698.2,714.7 L697.6,712.7 L697.2,710.6 L696.8,708.6 L696.5,706.5 L696.2,704.5 L696.1,702.4 L696.0,700.3 L696.0,698.2 L696.1,696.2 L696.3,694.1 L696.5,692.1 L696.6,689.9 L697.0,687.9 L697.4,685.8 L697.7,683.7 L698.1,681.6 L698.6,679.5 L699.0,677.4 L699.5,675.3 L700.1,673.2 L700.7,671.1 L701.4,669.0 L702.2,667.0 L703.0,665.0 L703.9,663.0 L704.8,661.0 L705.8,659.0 L706.8,657.0 L707.8,655.1 L708.9,653.1 L710.0,651.2 L711.1,649.2 L712.3,647.3 L713.5,645.4 L714.8,643.5 L716.1,641.7 L717.5,639.8 L718.8,638.0 L720.2,636.1 L721.7,634.3 L723.2,632.5 L724.7,630.7 L726.3,629.0 L727.9,627.3 L729.6,625.7 L731.3,624.1 L733.1,622.5 L735.0,621.1 L736.8,619.6 L738.7,618.2 L740.6,616.8 L742.6,615.6 L744.7,614.4 L746.7,613.3 L748.9,612.2 L751.0,611.2 L753.2,610.3 L755.4,609.4 L757.6,608.5 L759.8,607.7 L762.1,607.0 L764.3,606.4 L766.6,605.8 L768.9,605.3 L771.2,604.8 L773.6,604.3 L775.9,603.9 L778.2,603.6 L780.6,603.2 L782.9,602.9 L785.2,602.7 L787.6,602.5 L789.9,602.4 L792.3,602.3 L794.7,602.2 L797.0,602.2 L799.4,602.2 L801.7,602.2 L804.0,602.2 L806.4,602.2 L808.7,602.2 L811.1,602.3 L813.5,602.4 L815.8,602.5 L818.2,602.7 L820.5,602.9 L822.8,603.2 L825.2,603.6 L827.5,603.9 L829.8,604.3 L832.2,604.8 L834.5,605.3 L836.8,605.8 L839.1,606.4 L841.3,607.0 L843.6,607.7 L845.8,608.5 L848.0,609.4 L850.2,610.3 L852.4,611.2 L854.5,612.2 L856.7,613.3 L858.7,614.4 L860.8,615.6 L862.8,616.8 L864.7,618.2 L866.6,619.6 L868.5,621.1 L870.3,622.5 L872.1,624.1 L873.8,625.7 L875.5,627.3 L877.1,629.0 L878.7,630.7 L880.2,632.5 L881.7,634.3 L883.2,636.1 L884.6,638.0 L885.9,639.8 L887.3,641.7 L888.6,643.5 L889.9,645.4 L891.1,647.3 L892.3,649.2 L893.4,651.2 L894.5,653.1 L895.6,655.1 L896.6,657.0 L897.6,659.0 L898.6,661.0 L899.5,663.0 L900.4,665.0 L901.2,667.0 L902.0,669.0 L902.7,671.1 L903.3,673.2 L903.9,675.3 L904.4,677.4 L904.8,679.5 L905.3,681.6 L905.7,683.7 L906.0,685.8 L906.4,687.9 L906.8,689.9 L906.9,692.1 L907.1,694.1 L907.3,696.2 L907.4,698.2 L907.4,700.3 L907.3,702.4 L907.2,704.5 L906.9,706.5 L906.6,708.6 L906.2,710.6 L905.8,712.7 L905.2,714.7 L904.7,716.7 L904.1,718.6 L903.7,720.5 L903.2,722.4 L902.7,724.3 L902.1,726.1 L901.5,728.0 L900.9,729.8 L900.2,731.5 L899.6,733.3 L898.9,735.0 L898.2,736.7 L897.5,738.4 L896.9,740.0 L896.2,741.7 L895.6,743.3 L894.9,744.9 L894.2,746.4 L893.4,748.0 L892.6,749.5 L891.8,751.0 L890.8,752.4 L889.8,753.8 L888.7,755.2 L887.6,756.5 L886.4,757.8 L885.2,759.1 L883.9,760.3 L882.7,761.5 L881.4,762.6 L880.1,763.7 L878.8,764.7 L877.5,765.8 L876.2,766.8 L874.9,767.8 L873.7,768.7 L872.4,769.7 L871.1,770.5 L869.7,771.3 L868.2,772.0 L866.6,772.7 L864.9,773.2 L863.5,773.8 L861.9,774.3 L860.3,774.8 L858.7,775.1 L857.0,775.4 L855.3,775.7 L853.6,775.8 L851.9,776.0 L850.3,776.0 L848.6,776.0 L847.0,776.0 L845.4,776.0 L843.8,776.0 L842.3,775.9 L840.7,775.7 L839.1,775.4 L837.5,775.1 L835.9,774.7 L834.4,774.4 L833.0,774.0 L831.6,773.6 L830.2,773.2 L828.9,772.8 L827.6,772.3 L826.4,771.9 L824.9,771.1 L823.5,770.2 L822.2,769.4 L820.9,768.7 L819.8,768.0 L818.7,767.3 L817.7,766.7 L816.4,765.5 L815.2,764.4 L814.2,763.6 L813.5,763.2 L813.0,763.3 L812.6,763.6 L812.2,764.1 L811.9,764.8 L811.6,765.5 L811.3,766.2 L811.0,767.0 L810.7,767.9 L810.3,769.0 L810.0,770.0 L809.6,771.0 L809.2,771.9 L808.7,772.7 L808.2,773.5 L807.6,774.2 L807.1,774.9 L806.5,775.5 L805.8,776.0 L805.2,776.4 L804.5,776.7 L803.8,776.9 L803.1,777.0 L802.4,777.1 L801.7,777.2 Z" fill="none" stroke="#2e3436" stroke-width="1.25"/>
<circle cx="1166.7" cy="339.7" r="44.5" fill="none" stroke="#f0f2f2" stroke-width="1.5"/>
<circle cx="1166.7" cy="339.7" r="89.5" fill="none" stroke="#f0f2f2" stroke-width="1.5"/>
<circle cx="1166.7" cy="339.7" r="134.8" fill="none" stroke="#f0f2f2" stroke-width="1.5"/>
<line x1="1166.7" y1="339.7" x2="1166.7" y2="204.9" stroke="#eef4f2" stroke-width="1.3"/>
<line x1="1166.7" y1="339.7" x2="1234.1" y2="223.0" stroke="#f4f5f5" stroke-width="1.3"/>
<line x1="1166.7" y1="339.7" x2="1283.4" y2="272.3" stroke="#f4f5f5" stroke-width="1.3"/>
<line x1="1166.7" y1="339.7" x2="1301.5" y2="339.7" stroke="#eef4f2" stroke-width="1.3"/>
<line x1="1166.7" y1="339.7" x2="1283.4" y2="407.1" stroke="#f4f5f5" stroke-width="1.3"/>
<line x1="1166.7" y1="339.7" x2="1234.1" y2="456.4" stroke="#f4f5f5" stroke-width="1.3"/>
<line x1="1166.7" y1="339.7" x2="1166.7" y2="474.5" stroke="#eef4f2" stroke-width="1.3"/>
<line x1="1166.7" y1="339.7" x2="1099.3" y2="456.4" stroke="#f4f5f5" stroke-width="1.3"/>
<line x1="1166.7" y1="339.7" x2="1050.0" y2="407.1" stroke="#f4f5f5" stroke-width="1.3"/>
<line x1="1166.7" y1="339.7" x2="1031.9" y2="339.7" stroke="#eef4f2" stroke-width="1.3"/>
<line x1="1166.7" y1="339.7" x2="1050.0" y2="272.3" stroke="#f4f5f5" stroke-width="1.3"/>
<line x1="1166.7" y1="339.7" x2="1099.3" y2="223.0" stroke="#f4f5f5" stroke-width="1.3"/>
<circle cx="1166.7" cy="339.7" r="121.9" fill="none" stroke="#bce6b6" stroke-width="2.2"/>
<text x="1166.7" y="200.9" class="pa" text-anchor="middle">0°</text>
<text x="1238.7" y="220.2" class="pa" text-anchor="middle">30°</text>
<text x="1291.1" y="271.1" class="pa" text-anchor="middle">60°</text>
<text x="1311.2" y="342.9" class="pa" text-anchor="middle">90°</text>
<text x="1294.9" y="413.4" class="pa" text-anchor="middle">120°</text>
<text x="1243.5" y="464.9" class="pa" text-anchor="middle">150°</text>
<text x="1170.9" y="484.0" class="pa" text-anchor="middle">180°</text>
<text x="1089.9" y="464.9" class="pa" text-anchor="middle">-150°</text>
<text x="1038.5" y="413.4" class="pa" text-anchor="middle">-120°</text>
<text x="1022.2" y="342.9" class="pa" text-anchor="middle">-90°</text>
<text x="1042.3" y="271.1" class="pa" text-anchor="middle">-60°</text>
<text x="1094.7" y="220.2" class="pa" text-anchor="middle">-30°</text>
<text x="1169.7" y="216.4" class="pdb">-3.0</text>
<text x="1169.7" y="248.1" class="pdb">-10.0</text>
<text x="1169.7" y="293.6" class="pdb">-20.0</text>
<text x="1169.7" y="346.8" class="pdb">-30.0</text>
<path d="M1166.7,339.7 L1166.7,339.7 L1159.2,315.0 L1155.2,300.9 L1154.1,295.8 L1153.0,290.4 L1152.1,285.4 L1151.3,280.0 L1150.4,274.5 L1149.7,269.0 L1149.0,263.0 L1148.4,257.1 L1147.9,251.3 L1147.8,246.8 L1147.8,242.7 L1148.0,238.7 L1148.2,234.9 L1148.5,231.2 L1149.0,227.7 L1149.5,224.4 L1150.0,221.1 L1150.7,218.2 L1151.5,215.9 L1152.4,214.2 L1153.4,212.7 L1154.3,211.3 L1155.4,210.0 L1156.4,208.9 L1157.5,207.8 L1158.6,206.9 L1159.7,206.0 L1160.8,205.3 L1162.0,204.7 L1163.2,204.2 L1164.3,203.8 L1165.5,203.5 L1166.7,203.2 L1167.9,203.5 L1169.1,203.8 L1170.2,204.2 L1171.4,204.7 L1172.6,205.3 L1173.7,206.0 L1174.8,206.9 L1175.9,207.8 L1177.0,208.9 L1178.0,210.0 L1179.1,211.3 L1180.0,212.7 L1181.0,214.2 L1181.9,215.9 L1182.7,218.2 L1183.4,221.1 L1183.9,224.4 L1184.4,227.7 L1184.9,231.2 L1185.2,234.9 L1185.4,238.7 L1185.6,242.7 L1185.6,246.8 L1185.5,251.3 L1185.0,257.1 L1184.4,263.0 L1183.7,269.0 L1183.0,274.5 L1182.1,280.0 L1181.3,285.4 L1180.4,290.4 L1179.3,295.8 L1178.2,300.9 L1174.2,315.0 L1166.7,339.7 Z" fill="none" stroke="#2e3436" stroke-width="1.15"/>
<path d="M1166.7,339.7 L1166.7,339.7 L1164.2,340.0 L1160.7,340.4 L1156.7,340.8 L1153.0,341.1 L1151.0,341.2 L1149.4,341.2 L1147.8,341.2 L1146.3,341.1 L1144.8,341.0 L1143.3,340.9 L1141.8,340.8 L1140.3,340.6 L1139.3,340.4 L1138.4,340.2 L1137.4,340.0 L1136.4,339.7 L1135.5,339.4 L1134.5,339.1 L1133.6,338.8 L1132.7,338.5 L1131.8,338.2 L1131.0,337.8 L1130.1,337.5 L1129.4,337.1 L1128.8,336.7 L1128.3,336.3 L1127.8,336.0 L1127.4,335.6 L1126.9,335.2 L1126.4,334.8 L1126.0,334.3 L1125.5,333.9 L1125.1,333.5 L1124.7,333.0 L1124.3,332.6 L1123.9,332.2 L1123.6,331.7 L1123.3,331.3 L1123.0,330.8 L1122.7,330.4 L1122.5,329.9 L1122.3,329.4 L1122.1,329.0 L1121.9,328.5 L1121.8,328.1 L1121.7,327.6 L1121.6,327.2 L1121.6,326.8 L1121.6,326.3 L1121.6,325.9 L1121.6,325.5 L1121.6,325.0 L1121.6,324.6 L1121.7,324.2 L1121.8,323.8 L1121.8,323.4 L1121.9,323.0 L1122.0,322.5 L1122.1,322.1 L1122.2,321.7 L1122.4,321.4 L1122.6,321.0 L1122.9,320.6 L1123.1,320.3 L1123.3,319.9 L1123.6,319.6 L1123.8,319.2 L1124.1,318.9 L1124.4,318.6 L1124.7,318.3 L1125.0,318.0 L1125.3,317.7 L1125.6,317.4 L1126.0,317.1 L1126.3,316.9 L1126.7,316.6 L1127.2,316.4 L1127.6,316.2 L1128.1,316.0 L1128.6,315.9 L1129.1,315.7 L1129.6,315.6 L1130.2,315.5 L1130.7,315.4 L1131.3,315.4 L1131.9,315.3 L1132.5,315.3 L1133.1,315.3 L1133.7,315.3 L1134.3,315.3 L1134.9,315.3 L1135.5,315.3 L1136.2,315.4 L1136.8,315.5 L1137.4,315.5 L1138.0,315.6 L1138.9,315.9 L1139.7,316.2 L1140.6,316.6 L1141.4,316.9 L1142.3,317.3 L1143.2,317.8 L1144.1,318.2 L1144.9,318.7 L1145.8,319.2 L1146.7,319.7 L1147.5,320.2 L1148.4,320.7 L1149.5,321.6 L1150.7,322.5 L1151.9,323.5 L1153.0,324.5 L1154.2,325.5 L1155.3,326.6 L1156.5,327.7 L1157.9,329.2 L1160.3,332.0 L1162.9,335.0 L1165.2,337.8 L1166.7,339.7 Z" fill="none" stroke="#2e3436" stroke-width="1.15"/>
<path d="M1166.7,339.7 L1166.7,339.7 L1169.1,336.7 L1172.7,332.3 L1176.5,327.8 L1179.3,324.6 L1181.1,322.9 L1182.8,321.2 L1184.5,319.6 L1186.1,318.1 L1187.8,316.6 L1189.5,315.2 L1191.0,314.1 L1192.2,313.3 L1193.4,312.5 L1194.7,311.7 L1196.0,310.9 L1197.2,310.2 L1198.5,309.5 L1199.7,308.9 L1201.0,308.3 L1202.2,307.7 L1203.3,307.3 L1204.2,307.1 L1205.1,306.9 L1206.0,306.7 L1206.9,306.6 L1207.8,306.4 L1208.6,306.3 L1209.5,306.2 L1210.4,306.2 L1211.2,306.2 L1212.0,306.2 L1212.8,306.2 L1213.6,306.2 L1214.4,306.3 L1215.1,306.4 L1215.8,306.6 L1216.4,306.8 L1217.0,307.0 L1217.6,307.3 L1218.2,307.5 L1218.7,307.9 L1219.1,308.2 L1219.6,308.5 L1220.0,308.9 L1220.4,309.3 L1220.8,309.7 L1221.2,310.1 L1221.5,310.5 L1221.9,311.0 L1222.2,311.4 L1222.5,311.9 L1222.9,312.3 L1223.0,312.8 L1223.2,313.4 L1223.3,313.9 L1223.4,314.4 L1223.5,315.0 L1223.6,315.5 L1223.7,316.1 L1223.8,316.6 L1223.8,317.2 L1223.8,317.8 L1223.8,318.4 L1223.7,318.9 L1223.6,319.5 L1223.5,320.2 L1223.2,320.8 L1223.0,321.4 L1222.7,322.0 L1222.3,322.7 L1222.0,323.3 L1221.5,324.0 L1221.0,324.6 L1220.5,325.3 L1220.0,325.9 L1219.4,326.6 L1218.8,327.2 L1218.2,327.8 L1217.5,328.4 L1216.9,329.0 L1216.2,329.6 L1215.5,330.2 L1214.8,330.8 L1213.7,331.4 L1212.6,332.0 L1211.3,332.6 L1210.0,333.2 L1208.7,333.8 L1207.4,334.3 L1206.0,334.9 L1204.6,335.4 L1203.2,335.9 L1201.8,336.3 L1200.1,336.8 L1197.9,337.2 L1195.7,337.7 L1193.4,338.1 L1191.2,338.4 L1188.8,338.7 L1186.3,339.0 L1182.1,339.3 L1176.2,339.5 L1170.6,339.7 L1166.7,339.7 Z" fill="none" stroke="#2e3436" stroke-width="1.15"/>
<path d="M1166.7,339.7 L1166.7,339.7 L1161.8,333.3 L1155.2,324.4 L1150.0,317.2 L1147.8,313.7 L1147.0,312.1 L1146.6,311.0 L1147.5,311.7 L1148.7,313.0 L1151.2,316.4 L1156.3,323.6 L1162.4,332.9 L1166.7,339.7 Z" fill="none" stroke="#2e3436" stroke-width="1.15"/>
<path d="M1166.7,339.7 L1166.7,339.7 L1163.1,331.7 L1158.7,321.4 L1156.4,315.4 L1155.6,313.0 L1155.5,311.9 L1156.1,312.8 L1157.2,315.0 L1159.7,321.0 L1163.7,331.5 L1166.7,339.7 Z" fill="none" stroke="#2e3436" stroke-width="1.15"/>
<path d="M1166.7,339.7 L1166.7,339.7 L1170.4,329.6 L1175.7,315.6 L1180.2,304.6 L1182.5,299.5 L1183.8,297.4 L1184.7,296.3 L1184.5,297.7 L1183.9,300.1 L1182.0,305.4 L1177.4,316.3 L1171.3,329.9 L1166.7,339.7 Z" fill="none" stroke="#2e3436" stroke-width="1.15"/>
<path d="M1166.7,339.7 L1166.7,339.7 L1170.2,334.3 L1175.1,326.8 L1179.1,321.0 L1181.1,318.4 L1182.1,317.3 L1182.8,316.8 L1182.5,317.6 L1181.8,318.9 L1180.0,321.7 L1175.9,327.4 L1170.6,334.6 L1166.7,339.7 Z" fill="none" stroke="#2e3436" stroke-width="1.15"/>
<circle cx="1166.7" cy="736.7" r="44.5" fill="none" stroke="#e9ebeb" stroke-width="1.5"/>
<circle cx="1166.7" cy="736.7" r="89.5" fill="none" stroke="#e9ebeb" stroke-width="1.5"/>
<circle cx="1166.7" cy="736.7" r="134.8" fill="none" stroke="#e9ebeb" stroke-width="1.5"/>
<line x1="1166.7" y1="736.7" x2="1166.7" y2="601.9" stroke="#e6eeec" stroke-width="1.3"/>
<line x1="1166.7" y1="736.7" x2="1234.1" y2="620.0" stroke="#eceeee" stroke-width="1.3"/>
<line x1="1166.7" y1="736.7" x2="1283.4" y2="669.3" stroke="#eceeee" stroke-width="1.3"/>
<line x1="1166.7" y1="736.7" x2="1301.5" y2="736.7" stroke="#e6eeec" stroke-width="1.3"/>
<line x1="1166.7" y1="736.7" x2="1283.4" y2="804.1" stroke="#eceeee" stroke-width="1.3"/>
<line x1="1166.7" y1="736.7" x2="1234.1" y2="853.4" stroke="#eceeee" stroke-width="1.3"/>
<line x1="1166.7" y1="736.7" x2="1166.7" y2="871.5" stroke="#e6eeec" stroke-width="1.3"/>
<line x1="1166.7" y1="736.7" x2="1099.3" y2="853.4" stroke="#eceeee" stroke-width="1.3"/>
<line x1="1166.7" y1="736.7" x2="1050.0" y2="804.1" stroke="#eceeee" stroke-width="1.3"/>
<line x1="1166.7" y1="736.7" x2="1031.9" y2="736.7" stroke="#e6eeec" stroke-width="1.3"/>
<line x1="1166.7" y1="736.7" x2="1050.0" y2="669.3" stroke="#eceeee" stroke-width="1.3"/>
<line x1="1166.7" y1="736.7" x2="1099.3" y2="620.0" stroke="#eceeee" stroke-width="1.3"/>
<circle cx="1166.7" cy="736.7" r="121.9" fill="none" stroke="#bce6b6" stroke-width="2.2"/>
<text x="1166.7" y="597.9" class="pa" text-anchor="middle">0°</text>
<text x="1238.7" y="617.2" class="pa" text-anchor="middle">30°</text>
<text x="1291.1" y="668.1" class="pa" text-anchor="middle">60°</text>
<text x="1311.2" y="739.9" class="pa" text-anchor="middle">90°</text>
<text x="1294.9" y="810.4" class="pa" text-anchor="middle">120°</text>
<text x="1243.5" y="861.9" class="pa" text-anchor="middle">150°</text>
<text x="1170.9" y="881.0" class="pa" text-anchor="middle">180°</text>
<text x="1089.9" y="861.9" class="pa" text-anchor="middle">-150°</text>
<text x="1038.5" y="810.4" class="pa" text-anchor="middle">-120°</text>
<text x="1022.2" y="739.9" class="pa" text-anchor="middle">-90°</text>
<text x="1042.3" y="668.1" class="pa" text-anchor="middle">-60°</text>
<text x="1094.7" y="617.2" class="pa" text-anchor="middle">-30°</text>
<text x="1169.7" y="613.4" class="pdb">-3.0</text>
<text x="1169.7" y="645.1" class="pdb">-10.0</text>
<text x="1169.7" y="690.6" class="pdb">-20.0</text>
<text x="1169.7" y="743.8" class="pdb">-30.0</text>
<path d="M1166.7,736.7 L1166.7,736.7 L1155.5,706.8 L1152.2,696.7 L1149.8,688.9 L1148.6,684.1 L1147.4,679.1 L1146.4,674.1 L1145.5,669.4 L1144.9,665.3 L1144.4,661.4 L1144.0,657.5 L1143.7,653.6 L1143.5,650.2 L1143.6,647.2 L1143.6,644.2 L1143.8,641.3 L1144.0,638.3 L1144.2,635.3 L1144.6,632.5 L1145.0,630.1 L1145.5,627.7 L1146.0,625.2 L1146.6,622.8 L1147.2,620.4 L1147.9,618.2 L1148.7,616.1 L1149.5,614.3 L1150.3,612.5 L1151.3,611.0 L1152.2,609.6 L1153.2,608.5 L1154.3,607.4 L1155.3,606.5 L1156.4,605.5 L1157.5,604.7 L1158.6,604.0 L1159.7,603.4 L1160.9,602.8 L1162.0,602.3 L1163.2,601.9 L1164.3,601.5 L1165.5,601.2 L1166.7,601.5 L1167.9,601.8 L1169.0,602.2 L1170.2,602.7 L1171.4,603.3 L1172.5,603.9 L1173.6,604.6 L1174.7,605.4 L1175.8,606.3 L1176.9,607.2 L1177.9,608.3 L1179.0,609.4 L1179.9,610.7 L1180.9,612.2 L1181.8,614.0 L1182.6,615.8 L1183.4,617.9 L1184.1,620.1 L1184.8,622.4 L1185.4,624.9 L1186.0,627.3 L1186.5,629.8 L1187.0,632.2 L1187.4,634.9 L1187.7,637.9 L1187.9,640.9 L1188.1,643.8 L1188.3,646.8 L1188.4,649.8 L1188.3,653.2 L1188.0,657.1 L1187.7,661.0 L1187.3,664.9 L1186.7,669.0 L1185.9,673.8 L1185.0,678.8 L1183.9,683.8 L1182.8,688.6 L1180.5,696.5 L1177.3,706.6 L1166.7,736.7 Z" fill="none" stroke="#2e3436" stroke-width="1.15"/>
<path d="M1166.7,736.7 L1166.7,736.7 L1163.4,731.1 L1158.7,722.8 L1153.6,713.5 L1149.0,704.7 L1145.7,698.0 L1143.9,693.9 L1143.0,691.2 L1142.6,689.5 L1142.6,688.3 L1142.6,687.3 L1143.4,687.9 L1144.3,688.7 L1145.4,690.0 L1147.0,692.4 L1149.2,696.3 L1152.4,703.0 L1156.5,712.1 L1160.7,721.9 L1164.3,730.6 L1166.7,736.7 Z" fill="none" stroke="#2e3436" stroke-width="1.15"/>
<path d="M1166.7,736.7 L1166.7,736.7 L1163.9,734.5 L1159.9,731.2 L1155.3,727.3 L1150.7,723.3 L1146.7,719.6 L1143.8,716.8 L1141.9,714.8 L1140.8,713.3 L1140.1,712.3 L1139.7,711.6 L1139.5,710.9 L1139.4,710.3 L1140.0,710.5 L1140.6,710.6 L1141.4,711.0 L1142.5,711.6 L1143.9,712.7 L1146.0,714.5 L1148.9,717.3 L1152.8,721.2 L1156.9,725.7 L1161.0,730.1 L1164.4,734.0 L1166.7,736.7 Z" fill="none" stroke="#2e3436" stroke-width="1.15"/>
<path d="M1166.7,736.7 L1166.7,736.7 L1161.6,736.5 L1155.5,736.1 L1152.8,735.9 L1150.3,735.6 L1147.9,735.2 L1145.8,734.9 L1144.2,734.5 L1142.7,734.2 L1141.2,733.8 L1139.7,733.4 L1138.4,733.0 L1137.4,732.6 L1136.6,732.2 L1135.8,731.8 L1135.0,731.4 L1134.3,731.0 L1133.7,730.6 L1133.1,730.2 L1132.6,729.8 L1132.1,729.4 L1131.8,729.0 L1131.6,728.6 L1131.4,728.2 L1131.3,727.9 L1131.2,727.5 L1131.2,727.2 L1131.1,726.8 L1131.1,726.5 L1131.3,726.2 L1131.5,725.9 L1131.7,725.7 L1132.0,725.4 L1132.3,725.2 L1132.6,725.0 L1133.0,724.8 L1133.5,724.6 L1134.1,724.5 L1134.7,724.4 L1135.4,724.4 L1136.2,724.4 L1137.0,724.4 L1137.9,724.5 L1138.8,724.6 L1139.7,724.7 L1140.7,724.8 L1142.1,725.2 L1143.5,725.6 L1145.0,726.1 L1146.5,726.6 L1148.0,727.2 L1149.9,728.0 L1152.2,729.0 L1154.5,730.1 L1156.9,731.3 L1162.3,734.2 L1166.7,736.7 Z" fill="none" stroke="#2e3436" stroke-width="1.15"/>
<path d="M1166.7,736.7 L1166.7,736.7 L1168.9,731.1 L1172.2,723.1 L1176.1,714.1 L1179.8,705.8 L1182.8,699.7 L1184.8,696.0 L1186.2,693.8 L1187.3,692.6 L1188.1,691.9 L1188.8,691.3 L1188.8,692.3 L1188.8,693.4 L1188.5,694.9 L1187.6,697.4 L1186.0,701.2 L1183.0,707.3 L1178.8,715.4 L1174.1,724.0 L1169.7,731.5 L1166.7,736.7 Z" fill="none" stroke="#2e3436" stroke-width="1.15"/>
<path d="M1166.7,736.7 L1166.7,736.7 L1168.7,734.1 L1171.8,730.5 L1175.3,726.2 L1179.0,722.0 L1182.4,718.3 L1185.1,715.6 L1186.9,713.9 L1188.2,712.8 L1189.2,712.2 L1189.9,711.9 L1190.4,711.7 L1191.0,711.5 L1190.9,712.1 L1190.7,712.7 L1190.4,713.4 L1189.8,714.4 L1188.8,715.7 L1187.2,717.6 L1184.6,720.3 L1181.0,723.9 L1176.9,727.7 L1172.8,731.4 L1169.2,734.6 L1166.7,736.7 Z" fill="none" stroke="#2e3436" stroke-width="1.15"/>
<path d="M1166.7,736.7 L1166.7,736.7 L1170.9,734.7 L1175.0,732.8 L1177.2,731.9 L1179.2,731.1 L1181.1,730.4 L1182.4,730.0 L1183.8,729.6 L1185.1,729.3 L1186.3,729.0 L1187.4,728.8 L1188.2,728.7 L1188.9,728.6 L1189.7,728.6 L1190.4,728.5 L1191.1,728.5 L1191.6,728.6 L1192.1,728.7 L1192.6,728.8 L1192.9,728.9 L1193.2,729.1 L1193.4,729.3 L1193.6,729.5 L1193.7,729.7 L1193.9,729.9 L1193.8,730.2 L1193.8,730.4 L1193.7,730.7 L1193.6,731.0 L1193.5,731.3 L1193.2,731.5 L1192.9,731.8 L1192.5,732.1 L1192.0,732.5 L1191.5,732.8 L1190.8,733.1 L1190.1,733.4 L1189.4,733.7 L1188.7,734.0 L1187.7,734.3 L1186.4,734.6 L1185.1,734.9 L1183.7,735.2 L1182.3,735.5 L1180.3,735.7 L1178.2,736.0 L1175.9,736.2 L1171.4,736.5 L1166.7,736.7 Z" fill="none" stroke="#2e3436" stroke-width="1.15"/>
<circle cx="801.7" cy="1159.7" r="22.0" fill="none" stroke="#8a8a8a" stroke-width="1" stroke-dasharray="1.2 1.9"/>
<circle cx="801.7" cy="1159.7" r="44.0" fill="none" stroke="#8a8a8a" stroke-width="1" stroke-dasharray="1.2 1.9"/>
<circle cx="801.7" cy="1159.7" r="66.0" fill="none" stroke="#8a8a8a" stroke-width="1" stroke-dasharray="1.2 1.9"/>
<circle cx="801.7" cy="1159.7" r="88.0" fill="none" stroke="#8a8a8a" stroke-width="1" stroke-dasharray="1.2 1.9"/>
<circle cx="801.7" cy="1159.7" r="110.0" fill="none" stroke="#8a8a8a" stroke-width="1" stroke-dasharray="1.2 1.9"/>
<line x1="933.7" y1="1159.7" x2="669.7" y2="1159.7" stroke="#8a8a8a" stroke-width="1" stroke-dasharray="1.2 1.9"/>
<line x1="916.0" y1="1093.7" x2="687.4" y2="1225.7" stroke="#8a8a8a" stroke-width="1" stroke-dasharray="1.2 1.9"/>
<line x1="867.7" y1="1045.4" x2="735.7" y2="1274.0" stroke="#8a8a8a" stroke-width="1" stroke-dasharray="1.2 1.9"/>
<line x1="801.7" y1="1027.7" x2="801.7" y2="1291.7" stroke="#8a8a8a" stroke-width="1" stroke-dasharray="1.2 1.9"/>
<line x1="735.7" y1="1045.4" x2="867.7" y2="1274.0" stroke="#8a8a8a" stroke-width="1" stroke-dasharray="1.2 1.9"/>
<line x1="687.4" y1="1093.7" x2="916.0" y2="1225.7" stroke="#8a8a8a" stroke-width="1" stroke-dasharray="1.2 1.9"/>
<circle cx="801.7" cy="1159.7" r="132" fill="none" stroke="#3a3a3a" stroke-width="1.1"/>
<text x="801.7" y="1017.5" class="pb" text-anchor="middle">90</text>
<text x="874.3" y="1037.0" class="pb" text-anchor="middle">60</text>
<text x="927.4" y="1090.1" class="pb" text-anchor="middle">30</text>
<text x="946.9" y="1162.7" class="pb" text-anchor="middle">0</text>
<text x="927.4" y="1235.3" class="pb" text-anchor="middle">-30</text>
<text x="874.3" y="1288.4" class="pb" text-anchor="middle">-60</text>
<text x="801.7" y="1307.9" class="pb" text-anchor="middle">-90</text>
<text x="729.1" y="1288.4" class="pb" text-anchor="middle">-120</text>
<text x="676.0" y="1235.3" class="pb" text-anchor="middle">-150</text>
<text x="656.5" y="1162.7" class="pb" text-anchor="middle">180</text>
<text x="676.0" y="1090.1" class="pb" text-anchor="middle">150</text>
<text x="729.1" y="1037.0" class="pb" text-anchor="middle">120</text>
<text x="801.9" y="1159.1" class="pb">-30 dB</text>
<text x="804.9" y="1137.1" class="pb">-25 dB</text>
<text x="807.8" y="1115.1" class="pb">-20 dB</text>
<text x="811.0" y="1093.1" class="pb">-15 dB</text>
<text x="813.4" y="1071.1" class="pb">-10 dB</text>
<text x="820.1" y="1049.1" class="pb">-5 dB</text>
<text x="826.6" y="1027.1" class="pb">0 dB</text>
<path d="M801.2,1159.7 L801.1,1159.7 L801.0,1159.7 L800.9,1159.7 L800.9,1159.8 L800.8,1159.8 L800.7,1159.8 L800.6,1159.8 L800.4,1159.9 L800.3,1159.9 L800.2,1160.0 L800.0,1160.0 L799.9,1160.1 L799.7,1160.2 L799.5,1160.2 L799.3,1160.3 L799.1,1160.5 L798.8,1160.6 L798.6,1160.7 L798.3,1160.9 L797.9,1161.1 L797.6,1161.3 L797.3,1161.5 L796.9,1161.7 L796.5,1162.0 L796.1,1162.3 L795.7,1162.6 L795.3,1163.0 L794.8,1163.3 L794.4,1163.7 L794.0,1164.2 L793.6,1164.6 L793.1,1165.1 L792.7,1165.5 L792.3,1166.0 L791.9,1166.6 L791.5,1167.1 L791.2,1167.6 L790.8,1168.2 L790.5,1168.8 L790.2,1169.4 L789.8,1170.0 L789.0,1171.1 L788.2,1172.2 L787.5,1173.4 L786.8,1174.6 L786.1,1175.9 L785.4,1177.2 L784.8,1178.5 L784.2,1179.9 L783.6,1181.3 L783.2,1182.5 L782.9,1183.7 L782.7,1184.9 L782.5,1186.2 L782.3,1187.4 L782.2,1188.7 L782.1,1190.0 L782.0,1191.3 L782.0,1192.6 L782.0,1193.9 L782.0,1195.2 L782.1,1196.5 L782.2,1198.0 L782.2,1199.8 L782.2,1201.5 L782.3,1203.3 L782.4,1205.1 L782.6,1206.9 L782.9,1208.7 L783.2,1210.4 L783.7,1212.1 L784.2,1213.7 L784.7,1215.3 L785.3,1216.8 L786.0,1218.3 L786.7,1219.7 L787.5,1221.1 L788.4,1222.4 L789.2,1223.8 L790.2,1225.2 L791.1,1226.4 L792.2,1227.6 L793.2,1228.8 L794.3,1230.0 L795.4,1231.2 L796.6,1232.3 L797.8,1233.4 L799.1,1234.5 L800.4,1235.5 L801.7,1236.4 L803.1,1237.4 L804.4,1238.3 L805.9,1239.1 L807.3,1239.8 L808.8,1240.5 L810.3,1241.2 L811.8,1241.9 L813.4,1242.7 L815.0,1243.4 L816.6,1244.0 L818.2,1244.7 L819.9,1245.4 L821.6,1246.0 L823.4,1246.6 L825.2,1247.2 L827.0,1247.8 L828.8,1248.3 L830.6,1248.7 L832.5,1249.2 L834.4,1249.6 L836.4,1250.0 L838.3,1250.3 L840.3,1250.6 L842.3,1250.8 L844.3,1251.0 L846.3,1251.2 L848.4,1251.3 L850.4,1251.4 L852.6,1251.5 L854.7,1251.5 L856.9,1251.5 L859.1,1251.5 L861.3,1251.4 L863.5,1251.3 L865.7,1251.1 L867.9,1250.8 L870.1,1250.5 L872.4,1250.2 L874.6,1249.8 L876.9,1249.3 L879.2,1248.8 L881.4,1248.2 L883.6,1247.5 L885.8,1246.7 L887.8,1245.8 L889.8,1244.8 L891.7,1243.7 L893.7,1242.5 L895.5,1241.3 L897.4,1240.0 L899.2,1238.7 L901.0,1237.3 L902.7,1235.8 L904.4,1234.3 L906.0,1232.7 L907.6,1231.1 L909.1,1229.4 L910.5,1227.7 L911.9,1225.9 L913.2,1224.1 L914.5,1222.2 L915.8,1220.4 L917.1,1218.5 L918.4,1216.6 L919.6,1214.7 L920.8,1212.7 L921.9,1210.7 L923.0,1208.7 L924.1,1206.7 L925.1,1204.6 L926.0,1202.5 L926.9,1200.4 L927.7,1198.2 L928.5,1196.1 L929.2,1193.9 L929.9,1191.7 L930.5,1189.4 L931.1,1187.2 L931.6,1184.9 L932.0,1182.7 L932.4,1180.4 L932.7,1178.1 L932.9,1175.8 L933.1,1173.5 L933.3,1171.2 L933.4,1168.9 L933.5,1166.6 L933.5,1164.3 L933.5,1162.0 L933.5,1159.7 L933.5,1157.4 L933.5,1155.1 L933.5,1152.8 L933.4,1150.5 L933.3,1148.2 L933.1,1145.9 L932.9,1143.6 L932.7,1141.3 L932.4,1139.0 L932.0,1136.7 L931.6,1134.5 L931.1,1132.2 L930.5,1130.0 L929.9,1127.7 L929.2,1125.5 L928.5,1123.3 L927.7,1121.2 L926.9,1119.0 L926.0,1116.9 L925.1,1114.8 L924.1,1112.7 L923.0,1110.7 L921.9,1108.7 L920.8,1106.7 L919.6,1104.7 L918.4,1102.8 L917.1,1100.9 L915.8,1099.0 L914.5,1097.2 L913.2,1095.3 L911.9,1093.5 L910.5,1091.7 L909.1,1090.0 L907.6,1088.3 L906.0,1086.7 L904.4,1085.1 L902.7,1083.6 L901.0,1082.1 L899.2,1080.7 L897.4,1079.4 L895.5,1078.1 L893.7,1076.9 L891.7,1075.7 L889.8,1074.6 L887.8,1073.6 L885.8,1072.7 L883.6,1071.9 L881.4,1071.2 L879.2,1070.6 L876.9,1070.1 L874.6,1069.6 L872.4,1069.2 L870.1,1068.9 L867.9,1068.6 L865.7,1068.3 L863.5,1068.1 L861.3,1068.0 L859.1,1067.9 L856.9,1067.9 L854.7,1067.9 L852.6,1067.9 L850.4,1068.0 L848.4,1068.1 L846.3,1068.2 L844.3,1068.4 L842.3,1068.6 L840.3,1068.8 L838.3,1069.1 L836.4,1069.4 L834.4,1069.8 L832.5,1070.2 L830.6,1070.7 L828.8,1071.1 L827.0,1071.6 L825.2,1072.2 L823.4,1072.8 L821.6,1073.4 L819.9,1074.0 L818.2,1074.7 L816.6,1075.4 L815.0,1076.0 L813.4,1076.7 L811.8,1077.5 L810.3,1078.2 L808.8,1078.9 L807.3,1079.6 L805.9,1080.3 L804.4,1081.1 L803.1,1082.0 L801.7,1083.0 L800.4,1083.9 L799.1,1084.9 L797.8,1086.0 L796.6,1087.1 L795.4,1088.2 L794.3,1089.4 L793.2,1090.6 L792.2,1091.8 L791.1,1093.0 L790.2,1094.2 L789.2,1095.6 L788.4,1097.0 L787.5,1098.3 L786.7,1099.7 L786.0,1101.1 L785.3,1102.6 L784.7,1104.1 L784.2,1105.7 L783.7,1107.3 L783.2,1109.0 L782.9,1110.7 L782.6,1112.5 L782.4,1114.3 L782.3,1116.1 L782.2,1117.9 L782.2,1119.6 L782.2,1121.4 L782.1,1122.9 L782.0,1124.2 L782.0,1125.5 L782.0,1126.8 L782.0,1128.1 L782.1,1129.4 L782.2,1130.7 L782.3,1132.0 L782.5,1133.2 L782.7,1134.5 L782.9,1135.7 L783.2,1136.9 L783.6,1138.1 L784.2,1139.5 L784.8,1140.9 L785.4,1142.2 L786.1,1143.5 L786.8,1144.8 L787.5,1146.0 L788.2,1147.2 L789.0,1148.3 L789.8,1149.4 L790.2,1150.0 L790.5,1150.6 L790.8,1151.2 L791.2,1151.8 L791.5,1152.3 L791.9,1152.8 L792.3,1153.4 L792.7,1153.9 L793.1,1154.3 L793.6,1154.8 L794.0,1155.2 L794.4,1155.7 L794.8,1156.1 L795.3,1156.4 L795.7,1156.8 L796.1,1157.1 L796.5,1157.4 L796.9,1157.7 L797.3,1157.9 L797.6,1158.1 L797.9,1158.3 L798.3,1158.5 L798.6,1158.7 L798.8,1158.8 L799.1,1158.9 L799.3,1159.1 L799.5,1159.2 L799.7,1159.2 L799.9,1159.3 L800.0,1159.4 L800.2,1159.4 L800.3,1159.5 L800.4,1159.5 L800.6,1159.6 L800.7,1159.6 L800.8,1159.6 L800.9,1159.6 L800.9,1159.7 L801.0,1159.7 L801.1,1159.7 L801.2,1159.7 Z" fill="none" stroke="#66d04c" stroke-width="1.8"/>
<circle cx="802.3" cy="1558.1" r="22.0" fill="none" stroke="#8a8a8a" stroke-width="1" stroke-dasharray="1.2 1.9"/>
<circle cx="802.3" cy="1558.1" r="44.0" fill="none" stroke="#8a8a8a" stroke-width="1" stroke-dasharray="1.2 1.9"/>
<circle cx="802.3" cy="1558.1" r="66.0" fill="none" stroke="#8a8a8a" stroke-width="1" stroke-dasharray="1.2 1.9"/>
<circle cx="802.3" cy="1558.1" r="88.0" fill="none" stroke="#8a8a8a" stroke-width="1" stroke-dasharray="1.2 1.9"/>
<circle cx="802.3" cy="1558.1" r="110.0" fill="none" stroke="#8a8a8a" stroke-width="1" stroke-dasharray="1.2 1.9"/>
<line x1="934.3" y1="1558.1" x2="670.3" y2="1558.1" stroke="#8a8a8a" stroke-width="1" stroke-dasharray="1.2 1.9"/>
<line x1="916.6" y1="1492.1" x2="688.0" y2="1624.1" stroke="#8a8a8a" stroke-width="1" stroke-dasharray="1.2 1.9"/>
<line x1="868.3" y1="1443.8" x2="736.3" y2="1672.4" stroke="#8a8a8a" stroke-width="1" stroke-dasharray="1.2 1.9"/>
<line x1="802.3" y1="1426.1" x2="802.3" y2="1690.1" stroke="#8a8a8a" stroke-width="1" stroke-dasharray="1.2 1.9"/>
<line x1="736.3" y1="1443.8" x2="868.3" y2="1672.4" stroke="#8a8a8a" stroke-width="1" stroke-dasharray="1.2 1.9"/>
<line x1="688.0" y1="1492.1" x2="916.6" y2="1624.1" stroke="#8a8a8a" stroke-width="1" stroke-dasharray="1.2 1.9"/>
<circle cx="802.3" cy="1558.1" r="132" fill="none" stroke="#3a3a3a" stroke-width="1.1"/>
<text x="802.3" y="1415.9" class="pb" text-anchor="middle">90</text>
<text x="874.9" y="1435.4" class="pb" text-anchor="middle">60</text>
<text x="928.0" y="1488.5" class="pb" text-anchor="middle">30</text>
<text x="947.5" y="1561.1" class="pb" text-anchor="middle">0</text>
<text x="928.0" y="1633.7" class="pb" text-anchor="middle">-30</text>
<text x="874.9" y="1686.8" class="pb" text-anchor="middle">-60</text>
<text x="802.3" y="1706.3" class="pb" text-anchor="middle">-90</text>
<text x="729.7" y="1686.8" class="pb" text-anchor="middle">-120</text>
<text x="676.6" y="1633.7" class="pb" text-anchor="middle">-150</text>
<text x="657.1" y="1561.1" class="pb" text-anchor="middle">180</text>
<text x="676.6" y="1488.5" class="pb" text-anchor="middle">150</text>
<text x="729.7" y="1435.4" class="pb" text-anchor="middle">120</text>
<text x="802.5" y="1557.5" class="pb">-30 dB</text>
<text x="805.5" y="1535.5" class="pb">-25 dB</text>
<text x="808.4" y="1513.5" class="pb">-20 dB</text>
<text x="811.6" y="1491.5" class="pb">-15 dB</text>
<text x="814.0" y="1469.5" class="pb">-10 dB</text>
<text x="820.7" y="1447.5" class="pb">-5 dB</text>
<text x="827.2" y="1425.5" class="pb">0 dB</text>
<path d="M801.8,1558.1 L801.7,1558.1 L801.6,1558.1 L801.6,1558.1 L801.5,1558.2 L801.4,1558.2 L801.3,1558.2 L801.2,1558.2 L801.0,1558.3 L800.9,1558.3 L800.7,1558.4 L800.5,1558.4 L800.3,1558.5 L800.0,1558.6 L799.7,1558.7 L799.4,1558.9 L799.0,1559.1 L798.5,1559.3 L798.0,1559.5 L797.5,1559.8 L796.9,1560.1 L796.4,1560.4 L795.8,1560.7 L795.2,1561.1 L794.5,1561.6 L793.9,1562.0 L793.3,1562.5 L792.7,1563.0 L792.1,1563.5 L790.7,1564.6 L789.2,1565.7 L787.6,1566.9 L786.1,1568.2 L784.6,1569.6 L783.2,1571.0 L782.1,1572.2 L781.2,1573.4 L780.3,1574.7 L779.5,1575.9 L778.6,1577.3 L777.9,1578.6 L777.2,1579.9 L776.6,1581.2 L776.1,1582.5 L775.9,1583.6 L775.6,1584.8 L775.5,1585.9 L775.3,1587.0 L775.2,1588.1 L775.2,1589.3 L775.2,1590.4 L775.3,1591.5 L775.4,1592.6 L775.5,1593.7 L775.7,1594.7 L776.0,1595.7 L776.3,1596.7 L776.6,1597.6 L777.0,1598.5 L777.5,1599.4 L777.9,1600.3 L778.4,1601.2 L778.9,1602.1 L779.4,1603.1 L779.9,1604.0 L780.5,1605.0 L781.0,1605.9 L781.6,1606.8 L782.3,1607.6 L782.9,1608.5 L783.6,1609.4 L784.3,1610.3 L785.0,1611.2 L785.8,1612.1 L786.5,1613.0 L787.3,1613.9 L788.1,1614.9 L789.0,1615.8 L789.8,1616.7 L790.7,1617.8 L791.6,1618.8 L792.5,1619.8 L793.5,1620.9 L794.5,1621.9 L795.5,1623.0 L796.5,1624.1 L797.6,1625.1 L798.7,1626.2 L799.9,1627.3 L801.1,1628.5 L802.3,1629.6 L803.6,1630.8 L804.9,1632.0 L806.2,1633.3 L807.7,1634.6 L809.1,1635.9 L810.6,1637.2 L812.2,1638.5 L813.8,1639.7 L815.4,1640.8 L817.1,1641.9 L818.8,1642.8 L820.5,1643.7 L822.3,1644.6 L824.1,1645.5 L825.9,1646.2 L827.8,1646.9 L829.6,1647.5 L831.5,1648.0 L833.4,1648.4 L835.3,1648.8 L837.3,1649.2 L839.3,1649.6 L841.3,1649.9 L843.3,1650.1 L845.3,1650.3 L847.3,1650.4 L849.4,1650.5 L851.4,1650.5 L853.6,1650.6 L855.7,1650.7 L857.9,1650.6 L860.1,1650.6 L862.3,1650.5 L864.6,1650.5 L866.9,1650.4 L869.2,1650.2 L871.5,1650.0 L873.8,1649.7 L876.1,1649.3 L878.3,1648.7 L880.5,1648.1 L882.7,1647.4 L884.8,1646.5 L886.8,1645.6 L888.8,1644.6 L890.8,1643.5 L892.6,1642.4 L894.5,1641.1 L896.3,1639.8 L898.1,1638.5 L899.9,1637.1 L901.5,1635.6 L903.1,1634.1 L904.7,1632.5 L906.2,1630.9 L907.7,1629.2 L909.2,1627.5 L910.6,1625.8 L912.0,1624.0 L913.4,1622.2 L914.7,1620.4 L916.1,1618.6 L917.4,1616.8 L918.7,1614.9 L920.0,1613.0 L921.2,1611.0 L922.3,1609.1 L923.5,1607.1 L924.5,1605.0 L925.5,1602.9 L926.4,1600.8 L927.3,1598.7 L928.1,1596.6 L928.9,1594.4 L929.6,1592.2 L930.3,1590.0 L930.9,1587.8 L931.5,1585.6 L932.0,1583.3 L932.4,1581.0 L932.8,1578.8 L933.1,1576.5 L933.4,1574.2 L933.6,1571.9 L933.8,1569.6 L933.9,1567.3 L934.0,1565.0 L934.1,1562.7 L934.1,1560.4 L934.1,1558.1 L934.1,1555.8 L934.1,1553.5 L934.0,1551.2 L933.9,1548.9 L933.8,1546.6 L933.6,1544.3 L933.4,1542.0 L933.1,1539.7 L932.8,1537.4 L932.4,1535.2 L932.0,1532.9 L931.5,1530.6 L930.9,1528.4 L930.3,1526.2 L929.6,1524.0 L928.9,1521.8 L928.1,1519.6 L927.3,1517.5 L926.4,1515.4 L925.5,1513.3 L924.5,1511.2 L923.5,1509.1 L922.3,1507.1 L921.2,1505.2 L920.0,1503.2 L918.7,1501.3 L917.4,1499.4 L916.1,1497.6 L914.7,1495.8 L913.4,1494.0 L912.0,1492.2 L910.6,1490.4 L909.2,1488.7 L907.7,1487.0 L906.2,1485.3 L904.7,1483.7 L903.1,1482.1 L901.5,1480.6 L899.9,1479.1 L898.1,1477.7 L896.3,1476.4 L894.5,1475.1 L892.6,1473.8 L890.8,1472.7 L888.8,1471.6 L886.8,1470.6 L884.8,1469.7 L882.7,1468.8 L880.5,1468.1 L878.3,1467.5 L876.1,1466.9 L873.8,1466.5 L871.5,1466.2 L869.2,1466.0 L866.9,1465.8 L864.6,1465.7 L862.3,1465.7 L860.1,1465.6 L857.9,1465.6 L855.7,1465.5 L853.6,1465.6 L851.4,1465.7 L849.4,1465.7 L847.3,1465.8 L845.3,1465.9 L843.3,1466.1 L841.3,1466.3 L839.3,1466.6 L837.3,1467.0 L835.3,1467.4 L833.4,1467.8 L831.5,1468.2 L829.6,1468.7 L827.8,1469.3 L825.9,1470.0 L824.1,1470.7 L822.3,1471.6 L820.5,1472.5 L818.8,1473.4 L817.1,1474.3 L815.4,1475.4 L813.8,1476.5 L812.2,1477.7 L810.6,1479.0 L809.1,1480.3 L807.7,1481.6 L806.2,1482.9 L804.9,1484.2 L803.6,1485.4 L802.3,1486.6 L801.1,1487.7 L799.9,1488.9 L798.7,1490.0 L797.6,1491.1 L796.5,1492.1 L795.5,1493.2 L794.5,1494.3 L793.5,1495.3 L792.5,1496.4 L791.6,1497.4 L790.7,1498.4 L789.8,1499.5 L789.0,1500.4 L788.1,1501.3 L787.3,1502.3 L786.5,1503.2 L785.8,1504.1 L785.0,1505.0 L784.3,1505.9 L783.6,1506.8 L782.9,1507.7 L782.3,1508.6 L781.6,1509.4 L781.0,1510.3 L780.5,1511.2 L779.9,1512.2 L779.4,1513.1 L778.9,1514.1 L778.4,1515.0 L777.9,1515.9 L777.5,1516.8 L777.0,1517.7 L776.6,1518.6 L776.3,1519.5 L776.0,1520.5 L775.7,1521.5 L775.5,1522.5 L775.4,1523.6 L775.3,1524.7 L775.2,1525.8 L775.2,1526.9 L775.2,1528.1 L775.3,1529.2 L775.5,1530.3 L775.6,1531.4 L775.9,1532.6 L776.1,1533.7 L776.6,1535.0 L777.2,1536.3 L777.9,1537.6 L778.6,1538.9 L779.5,1540.3 L780.3,1541.5 L781.2,1542.8 L782.1,1544.0 L783.2,1545.2 L784.6,1546.6 L786.1,1548.0 L787.6,1549.3 L789.2,1550.5 L790.7,1551.6 L792.1,1552.7 L792.7,1553.2 L793.3,1553.7 L793.9,1554.2 L794.5,1554.6 L795.2,1555.1 L795.8,1555.5 L796.4,1555.8 L796.9,1556.1 L797.5,1556.4 L798.0,1556.7 L798.5,1556.9 L799.0,1557.1 L799.4,1557.3 L799.7,1557.5 L800.0,1557.6 L800.3,1557.7 L800.5,1557.8 L800.7,1557.8 L800.9,1557.9 L801.0,1557.9 L801.2,1558.0 L801.3,1558.0 L801.4,1558.0 L801.5,1558.0 L801.6,1558.1 L801.6,1558.1 L801.7,1558.1 L801.8,1558.1 Z" fill="none" stroke="#66d04c" stroke-width="1.8"/>
<path d="M802.3,1558.1 L802.3,1558.1 L801.3,1557.6 L799.9,1557.0 L798.2,1556.3 L796.4,1555.6 L794.5,1554.9 L792.7,1554.2 L791.2,1553.7 L790.1,1553.4 L789.5,1553.3 L788.9,1553.2 L788.3,1553.2 L787.8,1553.1 L787.4,1553.1 L786.9,1553.1 L786.5,1553.1 L786.1,1553.1 L785.7,1553.2 L785.2,1553.2 L784.8,1553.2 L784.3,1553.3 L783.7,1553.3 L783.1,1553.3 L782.5,1553.3 L781.9,1553.4 L781.3,1553.5 L780.7,1553.5 L780.1,1553.6 L779.5,1553.7 L778.9,1553.8 L778.3,1553.9 L777.7,1554.0 L777.0,1554.1 L776.2,1554.2 L775.4,1554.3 L774.7,1554.5 L773.9,1554.6 L773.2,1554.8 L772.6,1555.0 L772.0,1555.2 L771.4,1555.4 L771.0,1555.6 L770.6,1555.9 L770.3,1556.1 L770.0,1556.4 L769.8,1556.7 L769.6,1557.0 L769.4,1557.2 L769.3,1557.5 L769.1,1557.8 L769.0,1558.1 L769.1,1558.4 L769.3,1558.7 L769.4,1559.0 L769.6,1559.2 L769.8,1559.5 L770.0,1559.8 L770.3,1560.1 L770.6,1560.3 L771.0,1560.6 L771.4,1560.8 L772.0,1561.0 L772.6,1561.2 L773.2,1561.4 L773.9,1561.6 L774.7,1561.7 L775.4,1561.9 L776.2,1562.0 L777.0,1562.1 L777.7,1562.2 L778.3,1562.3 L778.9,1562.4 L779.5,1562.5 L780.1,1562.6 L780.7,1562.7 L781.3,1562.7 L781.9,1562.8 L782.5,1562.9 L783.1,1562.9 L783.7,1562.9 L784.3,1562.9 L784.8,1563.0 L785.2,1563.0 L785.7,1563.0 L786.1,1563.1 L786.5,1563.1 L786.9,1563.1 L787.4,1563.1 L787.8,1563.1 L788.3,1563.0 L788.9,1563.0 L789.5,1562.9 L790.1,1562.8 L791.2,1562.5 L792.7,1562.0 L794.5,1561.3 L796.4,1560.6 L798.2,1559.9 L799.9,1559.2 L801.3,1558.6 L802.3,1558.1 Z" fill="none" stroke="#66d04c" stroke-width="1.8"/>
<circle cx="1166.7" cy="1159.7" r="22.0" fill="none" stroke="#8a8a8a" stroke-width="1" stroke-dasharray="1.2 1.9"/>
<circle cx="1166.7" cy="1159.7" r="44.0" fill="none" stroke="#8a8a8a" stroke-width="1" stroke-dasharray="1.2 1.9"/>
<circle cx="1166.7" cy="1159.7" r="66.0" fill="none" stroke="#8a8a8a" stroke-width="1" stroke-dasharray="1.2 1.9"/>
<circle cx="1166.7" cy="1159.7" r="88.0" fill="none" stroke="#8a8a8a" stroke-width="1" stroke-dasharray="1.2 1.9"/>
<circle cx="1166.7" cy="1159.7" r="110.0" fill="none" stroke="#8a8a8a" stroke-width="1" stroke-dasharray="1.2 1.9"/>
<line x1="1298.7" y1="1159.7" x2="1034.7" y2="1159.7" stroke="#8a8a8a" stroke-width="1" stroke-dasharray="1.2 1.9"/>
<line x1="1281.0" y1="1093.7" x2="1052.4" y2="1225.7" stroke="#8a8a8a" stroke-width="1" stroke-dasharray="1.2 1.9"/>
<line x1="1232.7" y1="1045.4" x2="1100.7" y2="1274.0" stroke="#8a8a8a" stroke-width="1" stroke-dasharray="1.2 1.9"/>
<line x1="1166.7" y1="1027.7" x2="1166.7" y2="1291.7" stroke="#8a8a8a" stroke-width="1" stroke-dasharray="1.2 1.9"/>
<line x1="1100.7" y1="1045.4" x2="1232.7" y2="1274.0" stroke="#8a8a8a" stroke-width="1" stroke-dasharray="1.2 1.9"/>
<line x1="1052.4" y1="1093.7" x2="1281.0" y2="1225.7" stroke="#8a8a8a" stroke-width="1" stroke-dasharray="1.2 1.9"/>
<circle cx="1166.7" cy="1159.7" r="132" fill="none" stroke="#3a3a3a" stroke-width="1.1"/>
<text x="1166.7" y="1017.5" class="pb" text-anchor="middle">90</text>
<text x="1239.3" y="1037.0" class="pb" text-anchor="middle">60</text>
<text x="1292.4" y="1090.1" class="pb" text-anchor="middle">30</text>
<text x="1311.9" y="1162.7" class="pb" text-anchor="middle">0</text>
<text x="1292.4" y="1235.3" class="pb" text-anchor="middle">-30</text>
<text x="1239.3" y="1288.4" class="pb" text-anchor="middle">-60</text>
<text x="1166.7" y="1307.9" class="pb" text-anchor="middle">-90</text>
<text x="1094.1" y="1288.4" class="pb" text-anchor="middle">-120</text>
<text x="1041.0" y="1235.3" class="pb" text-anchor="middle">-150</text>
<text x="1021.5" y="1162.7" class="pb" text-anchor="middle">180</text>
<text x="1041.0" y="1090.1" class="pb" text-anchor="middle">150</text>
<text x="1094.1" y="1037.0" class="pb" text-anchor="middle">120</text>
<text x="1166.9" y="1159.1" class="pb">-30 dB</text>
<text x="1169.9" y="1137.1" class="pb">-25 dB</text>
<text x="1172.8" y="1115.1" class="pb">-20 dB</text>
<text x="1176.0" y="1093.1" class="pb">-15 dB</text>
<text x="1178.4" y="1071.1" class="pb">-10 dB</text>
<text x="1185.1" y="1049.1" class="pb">-5 dB</text>
<text x="1191.6" y="1027.1" class="pb">0 dB</text>
<path d="M1166.7,1159.7 L1170.1,1155.7 L1173.3,1151.9 L1176.3,1148.5 L1179.1,1145.5 L1181.6,1142.7 L1183.9,1140.3 L1185.9,1138.2 L1187.7,1136.3 L1189.3,1134.8 L1190.6,1133.6 L1191.6,1132.7 L1192.4,1132.1 L1192.9,1131.8 L1193.2,1131.8 L1193.2,1132.0 L1192.9,1132.6 L1192.3,1133.4 L1191.5,1134.5 L1190.3,1135.8 L1188.9,1137.5 L1187.2,1139.4 L1185.2,1141.5 L1182.9,1143.9 L1180.3,1146.6 L1177.3,1149.5 L1174.1,1152.7 L1170.6,1156.1 L1166.7,1159.7 L1166.7,1159.7 L1166.7,1159.7 L1166.7,1159.7 L1166.7,1159.7 L1166.7,1159.7 L1166.7,1159.7 L1166.7,1159.7 L1166.7,1159.7 L1166.7,1159.7 L1166.7,1159.7 L1166.7,1159.7 L1166.7,1159.7 L1166.7,1159.7 L1166.7,1159.7 L1166.7,1159.7 L1166.7,1159.7 L1166.7,1159.7 L1166.7,1159.7 L1166.7,1159.7 L1166.7,1159.7 L1166.7,1159.7 L1166.7,1159.7 L1166.7,1159.7 L1166.7,1159.7 L1166.7,1159.7 L1166.7,1159.7 L1166.7,1159.7 L1166.7,1159.7 L1166.7,1159.7 L1166.7,1159.7 L1166.7,1159.7 L1166.7,1159.7 L1166.7,1159.7 L1166.7,1159.7 L1166.7,1159.7 L1166.7,1159.7 L1166.7,1159.7 L1166.7,1159.7 L1166.7,1159.7 L1166.7,1159.7 L1166.7,1159.7 L1166.7,1159.7 L1166.7,1159.7 L1166.7,1159.7 L1166.7,1159.7 L1166.7,1159.7 L1166.7,1159.7 L1166.7,1159.7 L1166.7,1159.7 L1166.7,1159.7 L1166.7,1159.7 L1166.7,1159.7 L1166.7,1159.7 L1166.7,1159.7 L1166.7,1159.7 L1166.7,1159.7 L1166.7,1159.7 L1166.7,1159.7 L1166.7,1159.7 L1166.7,1159.7 L1166.7,1159.7 L1166.7,1159.7 L1166.7,1159.7 L1166.7,1159.7 L1171.9,1157.1 L1176.8,1154.7 L1181.4,1152.4 L1185.9,1150.4 L1190.0,1148.4 L1194.0,1146.7 L1197.6,1145.1 L1201.0,1143.7 L1204.2,1142.4 L1207.1,1141.3 L1209.7,1140.3 L1212.1,1139.5 L1214.2,1138.8 L1216.1,1138.2 L1217.7,1137.8 L1219.0,1137.5 L1220.1,1137.3 L1220.8,1137.3 L1221.4,1137.3 L1221.6,1137.5 L1221.5,1137.8 L1221.1,1138.3 L1220.3,1138.8 L1219.2,1139.5 L1217.8,1140.3 L1216.0,1141.3 L1213.8,1142.3 L1211.3,1143.5 L1208.5,1144.7 L1205.3,1146.0 L1201.7,1147.5 L1197.8,1149.0 L1193.5,1150.6 L1188.9,1152.3 L1183.9,1154.0 L1178.5,1155.9 L1172.8,1157.8 L1166.7,1159.7 L1166.7,1159.7 L1166.7,1159.7 L1166.7,1159.7 L1166.7,1159.7 L1166.7,1159.7 L1166.7,1159.7 L1166.7,1159.7 L1166.7,1159.7 L1166.7,1159.7 L1166.7,1159.7 L1166.7,1159.7 L1166.7,1159.7 L1166.7,1159.7 L1166.7,1159.7 L1176.1,1157.4 L1184.8,1155.4 L1192.9,1153.5 L1200.3,1152.0 L1206.9,1150.6 L1212.9,1149.5 L1218.2,1148.6 L1222.8,1147.8 L1226.8,1147.3 L1230.0,1146.9 L1232.5,1146.7 L1234.3,1146.7 L1235.4,1146.8 L1235.8,1147.0 L1235.7,1147.4 L1235.0,1147.8 L1233.8,1148.4 L1232.1,1148.9 L1230.0,1149.6 L1227.3,1150.3 L1224.1,1151.1 L1220.5,1151.9 L1216.3,1152.7 L1211.7,1153.6 L1206.5,1154.5 L1200.8,1155.4 L1206.6,1154.8 L1212.1,1154.4 L1217.5,1154.0 L1222.6,1153.6 L1227.6,1153.4 L1232.3,1153.2 L1236.9,1153.0 L1241.3,1153.0 L1245.4,1152.9 L1249.4,1153.0 L1253.2,1153.0 L1256.8,1153.2 L1260.3,1153.3 L1263.5,1153.5 L1266.6,1153.8 L1269.5,1154.1 L1272.2,1154.4 L1274.8,1154.7 L1277.2,1155.1 L1279.5,1155.5 L1281.6,1155.9 L1283.5,1156.4 L1285.3,1156.9 L1287.0,1157.4 L1288.5,1157.9 L1289.9,1158.4 L1291.1,1158.9 L1292.2,1159.5 L1293.2,1160.0 L1294.1,1160.6 L1294.9,1161.2 L1295.5,1161.8 L1296.0,1162.3 L1296.5,1162.9 L1296.9,1163.5 L1297.1,1164.1 L1297.3,1164.7 L1297.4,1165.3 L1297.5,1165.9 L1297.5,1166.4 L1297.5,1167.0 L1297.5,1167.6 L1297.4,1168.2 L1297.3,1168.7 L1297.1,1169.3 L1296.8,1169.9 L1296.5,1170.4 L1296.1,1170.9 L1295.6,1171.5 L1295.0,1172.0 L1294.3,1172.5 L1293.5,1173.0 L1292.6,1173.4 L1291.5,1173.9 L1290.4,1174.3 L1289.1,1174.7 L1287.7,1175.1 L1286.2,1175.4 L1284.5,1175.7 L1282.7,1176.0 L1280.7,1176.2 L1278.6,1176.4 L1276.4,1176.6 L1274.0,1176.7 L1271.4,1176.8 L1268.7,1176.8 L1265.9,1176.8 L1262.8,1176.7 L1259.6,1176.5 L1256.2,1176.3 L1252.7,1176.1 L1249.0,1175.7 L1245.1,1175.3 L1241.0,1174.9 L1236.8,1174.3 L1232.3,1173.7 L1227.7,1173.0 L1222.9,1172.2 L1217.9,1171.3 L1212.8,1170.4 L1207.4,1169.3 L1210.3,1170.2 L1213.1,1171.1 L1215.7,1172.0 L1218.2,1172.9 L1220.6,1173.7 L1222.8,1174.6 L1224.8,1175.4 L1226.7,1176.2 L1228.5,1177.0 L1230.1,1177.8 L1231.6,1178.5 L1233.0,1179.2 L1234.2,1179.9 L1235.2,1180.6 L1236.2,1181.2 L1237.0,1181.8 L1237.6,1182.3 L1238.1,1182.9 L1238.5,1183.3 L1238.7,1183.8 L1238.8,1184.2 L1238.7,1184.5 L1238.4,1184.7 L1237.4,1184.7 L1235.9,1184.5 L1233.8,1184.1 L1231.2,1183.5 L1228.0,1182.6 L1224.3,1181.5 L1220.1,1180.2 L1215.2,1178.6 L1209.9,1176.7 L1204.0,1174.6 L1197.6,1172.2 L1190.7,1169.5 L1183.2,1166.5 L1175.2,1163.3 L1166.7,1159.7 L1166.7,1159.7 L1166.7,1159.7 L1166.7,1159.7 L1166.7,1159.7 L1166.7,1159.7 L1166.7,1159.7 L1166.7,1159.7 L1166.7,1159.7 L1166.7,1159.7 L1166.7,1159.7 L1166.7,1159.7 L1166.7,1159.7 L1166.7,1159.7 L1166.7,1159.7 L1166.7,1159.7 L1166.7,1159.7 L1171.2,1162.0 L1175.3,1164.2 L1179.0,1166.2 L1182.3,1168.0 L1185.3,1169.7 L1187.9,1171.2 L1190.1,1172.6 L1192.0,1173.8 L1193.5,1174.8 L1194.7,1175.6 L1195.5,1176.2 L1195.9,1176.7 L1196.0,1176.9 L1195.7,1176.9 L1195.1,1176.7 L1194.0,1176.2 L1192.5,1175.5 L1190.6,1174.5 L1188.3,1173.2 L1185.7,1171.7 L1182.6,1169.8 L1179.2,1167.7 L1175.4,1165.4 L1171.2,1162.7 L1166.7,1159.7 L1166.7,1159.7 L1166.7,1159.7 L1166.7,1159.7 L1166.7,1159.7 L1166.7,1159.7 L1166.7,1159.7 L1166.7,1159.7 L1166.7,1159.7 L1166.7,1159.7 L1166.7,1159.7 L1166.7,1159.7 L1166.7,1159.7 L1166.7,1159.7 L1166.7,1159.7 L1166.7,1159.7 L1166.7,1159.7 L1166.7,1159.7 L1166.7,1159.7 L1166.7,1159.7 L1166.7,1159.7 L1166.7,1159.7 L1166.7,1159.7 L1170.8,1163.1 L1174.6,1166.2 L1178.1,1169.2 L1181.3,1172.0 L1184.2,1174.5 L1186.8,1176.9 L1189.1,1179.0 L1191.1,1180.9 L1192.8,1182.6 L1194.2,1184.0 L1195.3,1185.3 L1196.1,1186.3 L1196.7,1187.0 L1197.0,1187.5 L1197.0,1187.8 L1196.7,1187.8 L1196.1,1187.5 L1195.2,1186.9 L1194.0,1186.0 L1192.6,1184.8 L1190.8,1183.3 L1188.7,1181.5 L1186.4,1179.3 L1183.8,1176.9 L1180.9,1174.1 L1177.7,1171.0 L1174.3,1167.6 L1170.6,1163.8 L1166.7,1159.7" fill="none" stroke="#2a58d6" stroke-width="1.7" stroke-linejoin="round"/>
<circle cx="1166.1" cy="1558.1" r="22.0" fill="none" stroke="#8a8a8a" stroke-width="1" stroke-dasharray="1.2 1.9"/>
<circle cx="1166.1" cy="1558.1" r="44.0" fill="none" stroke="#8a8a8a" stroke-width="1" stroke-dasharray="1.2 1.9"/>
<circle cx="1166.1" cy="1558.1" r="66.0" fill="none" stroke="#8a8a8a" stroke-width="1" stroke-dasharray="1.2 1.9"/>
<circle cx="1166.1" cy="1558.1" r="88.0" fill="none" stroke="#8a8a8a" stroke-width="1" stroke-dasharray="1.2 1.9"/>
<circle cx="1166.1" cy="1558.1" r="110.0" fill="none" stroke="#8a8a8a" stroke-width="1" stroke-dasharray="1.2 1.9"/>
<line x1="1298.1" y1="1558.1" x2="1034.1" y2="1558.1" stroke="#8a8a8a" stroke-width="1" stroke-dasharray="1.2 1.9"/>
<line x1="1280.4" y1="1492.1" x2="1051.8" y2="1624.1" stroke="#8a8a8a" stroke-width="1" stroke-dasharray="1.2 1.9"/>
<line x1="1232.1" y1="1443.8" x2="1100.1" y2="1672.4" stroke="#8a8a8a" stroke-width="1" stroke-dasharray="1.2 1.9"/>
<line x1="1166.1" y1="1426.1" x2="1166.1" y2="1690.1" stroke="#8a8a8a" stroke-width="1" stroke-dasharray="1.2 1.9"/>
<line x1="1100.1" y1="1443.8" x2="1232.1" y2="1672.4" stroke="#8a8a8a" stroke-width="1" stroke-dasharray="1.2 1.9"/>
<line x1="1051.8" y1="1492.1" x2="1280.4" y2="1624.1" stroke="#8a8a8a" stroke-width="1" stroke-dasharray="1.2 1.9"/>
<circle cx="1166.1" cy="1558.1" r="132" fill="none" stroke="#3a3a3a" stroke-width="1.1"/>
<text x="1166.1" y="1415.9" class="pb" text-anchor="middle">90</text>
<text x="1238.7" y="1435.4" class="pb" text-anchor="middle">60</text>
<text x="1291.8" y="1488.5" class="pb" text-anchor="middle">30</text>
<text x="1311.3" y="1561.1" class="pb" text-anchor="middle">0</text>
<text x="1291.8" y="1633.7" class="pb" text-anchor="middle">-30</text>
<text x="1238.7" y="1686.8" class="pb" text-anchor="middle">-60</text>
<text x="1166.1" y="1706.3" class="pb" text-anchor="middle">-90</text>
<text x="1093.5" y="1686.8" class="pb" text-anchor="middle">-120</text>
<text x="1040.4" y="1633.7" class="pb" text-anchor="middle">-150</text>
<text x="1020.9" y="1561.1" class="pb" text-anchor="middle">180</text>
<text x="1040.4" y="1488.5" class="pb" text-anchor="middle">150</text>
<text x="1093.5" y="1435.4" class="pb" text-anchor="middle">120</text>
<text x="1166.3" y="1557.5" class="pb">-30 dB</text>
<text x="1169.3" y="1535.5" class="pb">-25 dB</text>
<text x="1172.2" y="1513.5" class="pb">-20 dB</text>
<text x="1175.4" y="1491.5" class="pb">-15 dB</text>
<text x="1177.8" y="1469.5" class="pb">-10 dB</text>
<text x="1184.5" y="1447.5" class="pb">-5 dB</text>
<text x="1191.0" y="1425.5" class="pb">0 dB</text>
<path d="M1166.1,1558.1 L1172.1,1553.7 L1177.8,1549.6 L1183.0,1545.9 L1187.8,1542.6 L1192.2,1539.7 L1196.1,1537.1 L1199.6,1534.8 L1202.7,1532.9 L1205.3,1531.4 L1207.5,1530.2 L1209.3,1529.3 L1210.5,1528.7 L1211.4,1528.4 L1211.7,1528.5 L1211.6,1528.8 L1211.0,1529.5 L1210.0,1530.4 L1208.5,1531.6 L1206.5,1533.1 L1204.0,1534.9 L1201.0,1536.9 L1197.5,1539.2 L1193.5,1541.8 L1189.1,1544.6 L1184.1,1547.6 L1178.6,1550.9 L1172.6,1554.4 L1166.1,1558.1 L1166.1,1558.1 L1166.1,1558.1 L1166.1,1558.1 L1166.1,1558.1 L1166.1,1558.1 L1166.1,1558.1 L1166.1,1558.1 L1166.1,1558.1 L1166.1,1558.1 L1166.1,1558.1 L1166.1,1558.1 L1166.1,1558.1 L1166.1,1558.1 L1166.1,1558.1 L1166.1,1558.1 L1166.1,1558.1 L1166.1,1558.1 L1166.1,1558.1 L1166.1,1558.1 L1166.1,1558.1 L1166.1,1558.1 L1166.1,1558.1 L1172.5,1555.3 L1178.4,1552.7 L1183.9,1550.4 L1189.0,1548.4 L1193.5,1546.6 L1197.6,1545.0 L1201.3,1543.7 L1204.5,1542.6 L1207.2,1541.7 L1209.4,1541.0 L1211.2,1540.6 L1212.5,1540.3 L1213.3,1540.2 L1213.6,1540.3 L1213.4,1540.6 L1212.8,1541.1 L1211.6,1541.8 L1210.0,1542.6 L1207.9,1543.5 L1205.2,1544.6 L1202.1,1545.9 L1198.5,1547.3 L1194.4,1548.8 L1189.7,1550.4 L1184.6,1552.2 L1178.9,1554.1 L1172.8,1556.0 L1166.1,1558.1 L1166.1,1558.1 L1166.1,1558.1 L1166.1,1558.1 L1166.1,1558.1 L1166.1,1558.1 L1166.1,1558.1 L1166.1,1558.1 L1166.1,1558.1 L1166.1,1558.1 L1166.1,1558.1 L1166.1,1558.1 L1166.1,1558.1 L1166.1,1558.1 L1166.1,1558.1 L1176.5,1555.7 L1186.1,1553.5 L1194.7,1551.7 L1202.4,1550.1 L1209.3,1548.8 L1215.3,1547.7 L1220.3,1546.9 L1224.5,1546.4 L1227.7,1546.0 L1230.1,1545.9 L1231.5,1545.9 L1232.0,1546.1 L1231.8,1546.5 L1230.9,1546.9 L1229.5,1547.4 L1227.5,1548.1 L1224.8,1548.7 L1221.6,1549.5 L1217.8,1550.3 L1213.3,1551.2 L1208.3,1552.1 L1202.7,1553.1 L1196.4,1554.1 L1189.6,1555.1 L1182.1,1556.1 L1174.0,1557.2 L1181.6,1556.3 L1188.8,1555.6 L1195.8,1555.0 L1202.5,1554.4 L1209.0,1553.9 L1215.1,1553.6 L1221.0,1553.2 L1226.7,1553.0 L1232.1,1552.8 L1237.2,1552.8 L1242.1,1552.7 L1246.8,1552.7 L1251.2,1552.8 L1255.4,1553.0 L1259.3,1553.1 L1263.0,1553.4 L1266.5,1553.6 L1269.8,1553.9 L1272.9,1554.3 L1275.7,1554.7 L1278.4,1555.1 L1280.8,1555.5 L1283.0,1556.0 L1285.1,1556.4 L1287.0,1556.9 L1288.6,1557.5 L1290.2,1558.0 L1291.5,1558.5 L1292.7,1559.1 L1293.7,1559.7 L1294.6,1560.2 L1295.4,1560.8 L1296.0,1561.4 L1296.5,1562.0 L1296.8,1562.6 L1297.1,1563.1 L1297.3,1563.7 L1297.4,1564.3 L1297.4,1564.9 L1297.4,1565.4 L1297.3,1566.0 L1297.2,1566.6 L1297.0,1567.1 L1296.7,1567.7 L1296.3,1568.2 L1295.7,1568.8 L1294.9,1569.3 L1294.0,1569.7 L1292.9,1570.2 L1291.6,1570.6 L1290.1,1571.0 L1288.4,1571.4 L1286.5,1571.7 L1284.4,1572.0 L1282.0,1572.2 L1279.4,1572.4 L1276.5,1572.5 L1273.4,1572.6 L1270.0,1572.6 L1266.3,1572.5 L1262.4,1572.4 L1258.1,1572.2 L1253.6,1571.9 L1248.8,1571.5 L1243.7,1571.0 L1238.3,1570.4 L1232.5,1569.8 L1226.5,1569.0 L1220.1,1568.1 L1213.4,1567.0 L1206.4,1565.9 L1199.0,1564.6 L1191.3,1563.2 L1183.2,1561.7 L1174.8,1560.0 L1166.1,1558.1 L1166.1,1558.1 L1166.1,1558.1 L1166.1,1558.1 L1166.1,1558.1 L1166.1,1558.1 L1166.1,1558.1 L1166.1,1558.1 L1166.1,1558.1 L1166.1,1558.1 L1166.1,1558.1 L1166.1,1558.1 L1166.1,1558.1 L1166.1,1558.1 L1175.3,1560.7 L1183.8,1563.2 L1191.6,1565.6 L1198.8,1567.8 L1205.4,1570.0 L1211.3,1572.0 L1216.6,1573.8 L1221.2,1575.6 L1225.2,1577.1 L1228.5,1578.5 L1231.3,1579.7 L1233.3,1580.8 L1234.8,1581.6 L1235.6,1582.2 L1235.8,1582.6 L1235.4,1582.9 L1234.5,1582.9 L1233.0,1582.7 L1231.0,1582.3 L1228.5,1581.7 L1225.4,1580.8 L1221.8,1579.7 L1217.7,1578.4 L1213.0,1576.8 L1207.9,1574.9 L1202.2,1572.8 L1196.0,1570.5 L1189.3,1567.8 L1182.0,1564.9 L1174.3,1561.6 L1166.1,1558.1 L1166.1,1558.1 L1166.1,1558.1 L1166.1,1558.1 L1166.1,1558.1 L1166.1,1558.1 L1166.1,1558.1 L1166.1,1558.1 L1166.1,1558.1 L1166.1,1558.1 L1166.1,1558.1 L1166.1,1558.1 L1166.1,1558.1 L1166.1,1558.1 L1166.1,1558.1 L1166.1,1558.1 L1166.1,1558.1 L1171.8,1561.1 L1177.0,1563.9 L1181.8,1566.5 L1186.2,1569.0 L1190.1,1571.3 L1193.5,1573.3 L1196.6,1575.2 L1199.2,1576.8 L1201.4,1578.3 L1203.2,1579.5 L1204.5,1580.5 L1205.4,1581.3 L1205.9,1581.8 L1206.0,1582.1 L1205.7,1582.2 L1205.0,1582.0 L1203.9,1581.5 L1202.4,1580.8 L1200.5,1579.8 L1198.2,1578.5 L1195.5,1577.0 L1192.4,1575.2 L1189.0,1573.1 L1185.1,1570.7 L1180.9,1568.0 L1176.3,1565.0 L1171.4,1561.7 L1166.1,1558.1 L1166.1,1558.1 L1166.1,1558.1 L1166.1,1558.1 L1166.1,1558.1 L1166.1,1558.1 L1166.1,1558.1 L1166.1,1558.1 L1166.1,1558.1 L1166.1,1558.1 L1166.1,1558.1 L1166.1,1558.1 L1166.1,1558.1 L1166.1,1558.1 L1166.1,1558.1 L1166.1,1558.1 L1166.1,1558.1 L1166.1,1558.1 L1166.1,1558.1 L1166.1,1558.1 L1166.1,1558.1 L1166.1,1558.1 L1166.1,1558.1 L1166.1,1558.1 L1166.1,1558.1 L1166.1,1558.1 L1166.1,1558.1 L1166.1,1558.1 L1166.1,1558.1 L1166.1,1558.1 L1166.1,1558.1 L1166.1,1558.1 L1166.1,1558.1 L1166.1,1558.1 L1166.1,1558.1 L1166.1,1558.1 L1166.1,1558.1 L1166.1,1558.1 L1166.1,1558.1 L1166.1,1558.1 L1166.1,1558.1 L1166.1,1558.1 L1166.1,1558.1 L1166.1,1558.1 L1166.1,1558.1 L1166.1,1558.1 L1166.1,1558.1 L1166.1,1558.1 L1166.1,1558.1 L1166.1,1558.1 L1166.1,1558.1 L1166.1,1558.1 L1166.1,1558.1 L1166.1,1558.1 L1166.1,1558.1 L1166.1,1558.1 L1166.1,1558.1 L1166.1,1558.1 L1166.1,1558.1 L1166.1,1558.1 L1166.1,1558.1 L1166.1,1558.1 L1166.1,1558.1 L1166.1,1558.1 L1166.1,1558.1 L1166.1,1558.1 L1166.1,1558.1 L1166.1,1558.1 L1166.1,1558.1 L1166.1,1558.1 L1166.1,1558.1 L1166.1,1558.1 L1166.1,1558.1 L1166.1,1558.1 L1166.1,1558.1 L1166.1,1558.1 L1166.1,1558.1 L1166.1,1558.1 L1166.1,1558.1 L1166.1,1558.1 L1166.1,1558.1 L1166.1,1558.1 L1166.1,1558.1 L1166.1,1558.1 L1166.1,1558.1 L1166.1,1558.1 L1166.1,1558.1 L1166.1,1558.1 L1166.1,1558.1 L1166.1,1558.1 L1166.1,1558.1 L1167.6,1560.4 L1168.9,1562.6 L1170.1,1564.5 L1171.2,1566.3 L1172.1,1567.8 L1172.9,1569.2 L1173.5,1570.3 L1174.0,1571.3 L1174.4,1572.0 L1174.6,1572.6 L1174.8,1572.9 L1174.8,1573.1 L1174.6,1573.0 L1174.3,1572.6 L1173.8,1571.8 L1173.1,1570.8 L1172.3,1569.5 L1171.4,1567.8 L1170.3,1565.9 L1169.0,1563.6 L1167.6,1561.0 L1166.1,1558.1" fill="none" stroke="#2a58d6" stroke-width="1.7" stroke-linejoin="round"/>
<g transform="translate(1523,305.5) rotate(-90)"><text x="0" y="0" style="font-family:'Liberation Sans';font-size:43px;fill:#c8c8c8">D</text><text x="30.5" y="0" style="font-family:'Liberation Sans';font-size:28.5px;fill:#c8c8c8" textLength="128.4" lengthAdjust="spacingAndGlyphs">ATASHEET</text></g>
<rect x="1464" y="337.6" width="86" height="1.8" fill="#c8c8c8"/>
<g transform="translate(1528.6,496) rotate(-90)"><text x="0" y="0" style="font-family:'Liberation Sans';font-weight:bold;font-size:51px;fill:#b8b8b8;stroke:#b8b8b8;stroke-width:0.6" textLength="132.5" lengthAdjust="spacingAndGlyphs">Sector</text></g>
<g transform="translate(1528.4,614.5) rotate(-90)"><text x="0" y="0" style="font-family:'Liberation Sans';font-weight:bold;font-style:italic;font-size:57.5px;fill:#b8b8b8;stroke:#b8b8b8;stroke-width:2.2" textLength="102" lengthAdjust="spacingAndGlyphs">MAX</text></g>
<g transform="translate(1528.6,659.6) rotate(-90)"><text x="0" y="0" style="font-family:'Liberation Sans';font-weight:bold;font-style:italic;font-size:52px;fill:#b8b8b8;stroke:#b8b8b8;stroke-width:1.6" textLength="52.8" lengthAdjust="spacingAndGlyphs">aır</text></g>
<circle cx="1490.8" cy="504.1" r="3.2" fill="none" stroke="#b8b8b8" stroke-width="1"/>
<path d="M1485.5,630.5 A15,15 0 0 1 1498.5,616" fill="none" stroke="#b8b8b8" stroke-width="2.4"/>
<path d="M1491,630.5 A9.5,9.5 0 0 1 1498.5,621.5" fill="none" stroke="#b8b8b8" stroke-width="2.4"/>
<rect x="1495.5" y="627" width="3.5" height="3.6" fill="#b8b8b8"/>
<text x="1503.6" y="2008.5" text-anchor="middle" style="font-family:'Liberation Sans';font-size:20.5px;fill:#fff">5</text>
</svg>
</body></html>
